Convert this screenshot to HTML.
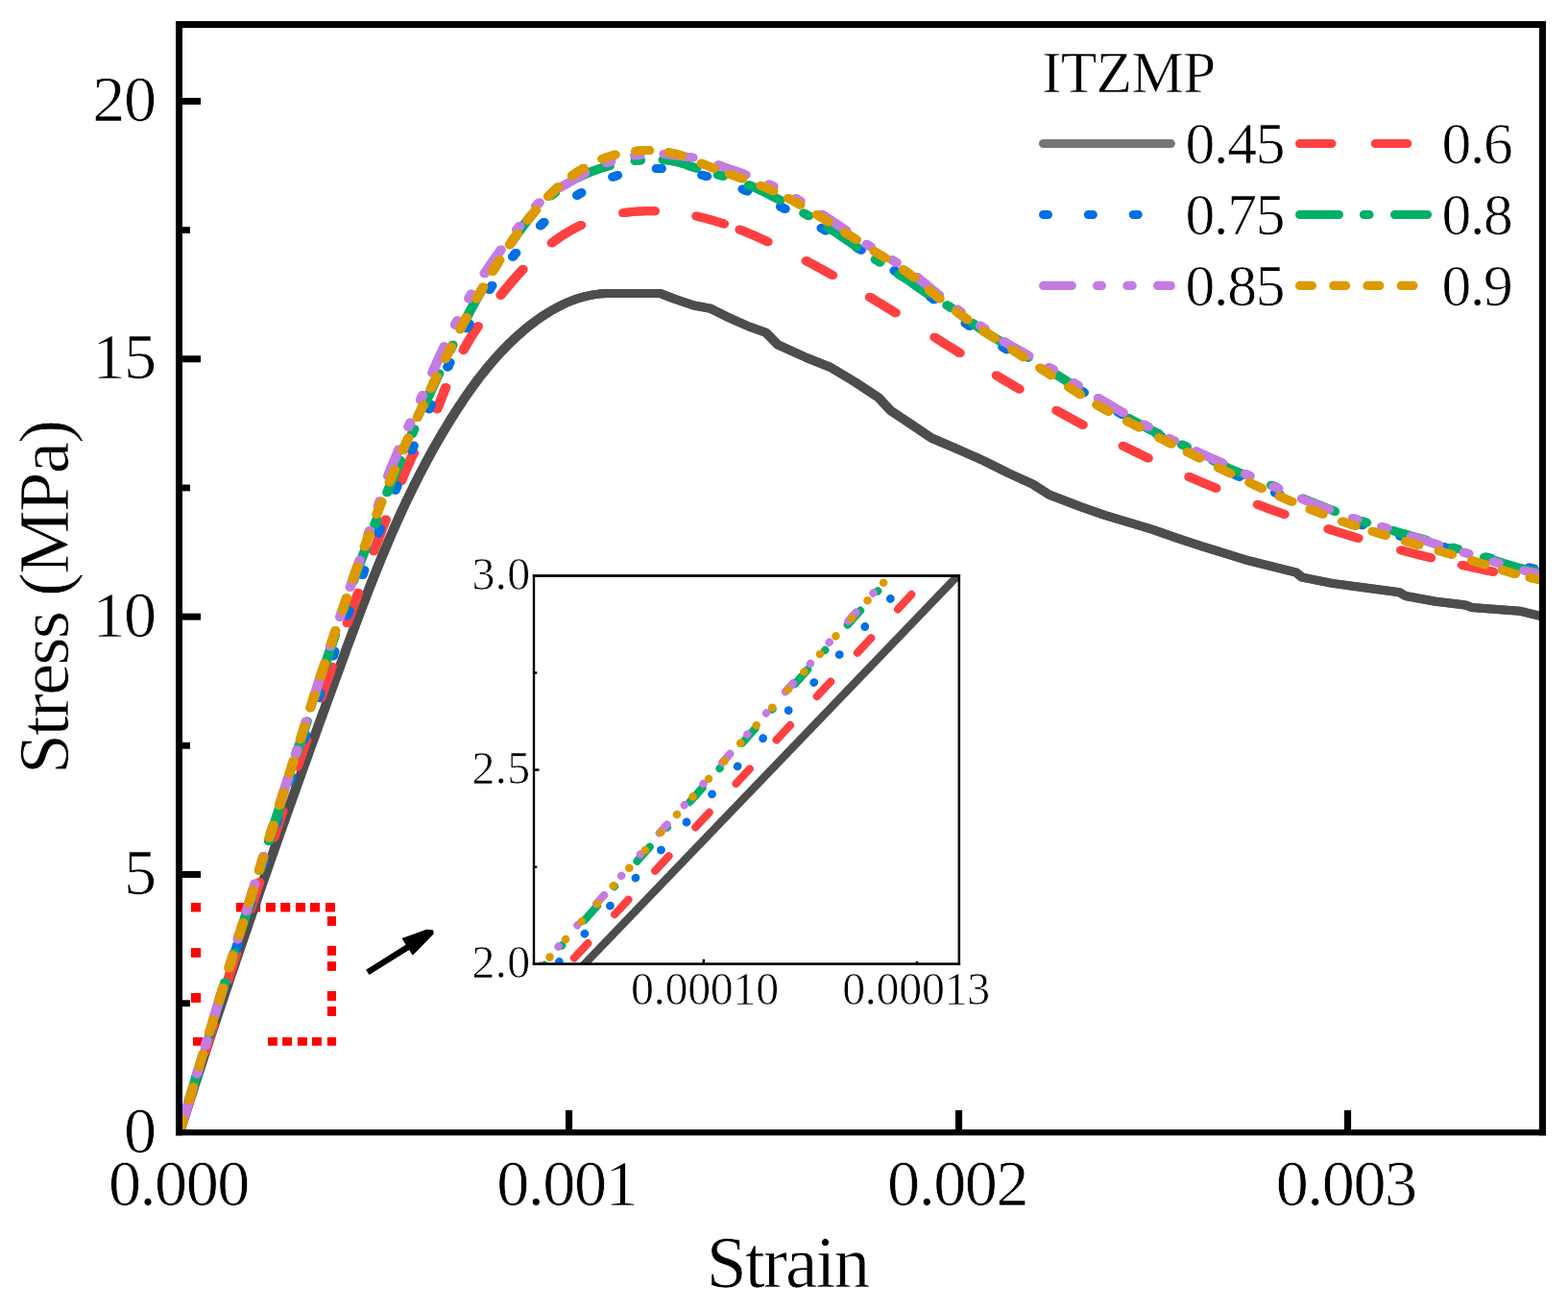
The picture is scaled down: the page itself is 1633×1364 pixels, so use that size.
<!DOCTYPE html>
<html lang="en"><head><meta charset="utf-8"><title>Stress-Strain curves (ITZMP)</title>
<style>
html,body{margin:0;padding:0;background:#fff;}
body{width:1633px;height:1364px;overflow:hidden;}
svg{display:block;font-family:"Liberation Serif", "Times New Roman", serif;fill:#000;}
text{stroke:#fff;stroke-width:0.7px;stroke-linejoin:round;}
</style></head><body>
<svg width="1633" height="1364" viewBox="0 0 1633 1364" shape-rendering="geometricPrecision">
<rect width="1633" height="1364" fill="#fff"/>
<defs><clipPath id="cm"><rect x="187" y="26" width="1419.5" height="1152.5"/></clipPath><clipPath id="ci"><rect x="556" y="599.5" width="442.8" height="404.3"/></clipPath></defs>
<g fill="#ff0000">
<rect x="198.90" y="940.00" width="10.20" height="9.50" fill="#ff0000"/>
<rect x="246.00" y="940.00" width="10.00" height="9.50" fill="#ff0000"/>
<rect x="261.20" y="940.00" width="10.00" height="9.50" fill="#ff0000"/>
<rect x="276.90" y="940.00" width="10.00" height="9.50" fill="#ff0000"/>
<rect x="292.20" y="940.00" width="10.00" height="9.50" fill="#ff0000"/>
<rect x="308.00" y="940.00" width="10.00" height="9.50" fill="#ff0000"/>
<rect x="323.00" y="940.00" width="10.00" height="9.50" fill="#ff0000"/>
<rect x="339.00" y="940.00" width="10.00" height="9.50" fill="#ff0000"/>
<rect x="340.90" y="954.10" width="9.10" height="9.90" fill="#ff0000"/>
<rect x="340.90" y="984.90" width="9.10" height="10.00" fill="#ff0000"/>
<rect x="340.90" y="1001.20" width="9.10" height="9.70" fill="#ff0000"/>
<rect x="340.90" y="1032.00" width="9.10" height="10.00" fill="#ff0000"/>
<rect x="340.90" y="1048.00" width="9.10" height="10.00" fill="#ff0000"/>
<rect x="201.00" y="1080.10" width="10.20" height="8.70" fill="#ff0000"/>
<rect x="279.10" y="1080.10" width="9.80" height="8.70" fill="#ff0000"/>
<rect x="294.10" y="1080.10" width="9.90" height="8.70" fill="#ff0000"/>
<rect x="309.90" y="1080.10" width="10.00" height="8.70" fill="#ff0000"/>
<rect x="324.90" y="1080.10" width="10.00" height="8.70" fill="#ff0000"/>
<rect x="340.90" y="1080.10" width="9.20" height="8.70" fill="#ff0000"/>
<rect x="198.90" y="987.10" width="10.20" height="9.80" fill="#ff0000"/>
<rect x="198.90" y="1034.00" width="10.20" height="9.90" fill="#ff0000"/>
</g>
<g clip-path="url(#cm)">
<path id="c1" transform="translate(-0.65 0)" d="M187.0,1178.9L188.2,1175.1L189.4,1171.3L190.6,1167.5L191.8,1163.7L193.1,1159.8L194.3,1156.0L195.5,1152.2L196.7,1148.4L197.9,1144.6L199.2,1140.8L200.4,1137.0L201.6,1133.2L202.8,1129.4L204.1,1125.6L205.3,1121.8L206.5,1118.0L207.8,1114.2L209.0,1110.4L210.3,1106.5L211.5,1102.7L212.7,1098.9L214.0,1095.1L215.2,1091.3L216.5,1087.5L217.7,1083.7L219.0,1079.9L220.2,1076.1L221.5,1072.3L222.8,1068.5L224.0,1064.8L225.3,1061.0L226.5,1057.2L227.8,1053.4L229.1,1049.6L230.3,1045.8L231.6,1042.0L232.9,1038.2L234.1,1034.4L235.4,1030.6L236.7,1026.8L238.0,1023.0L239.2,1019.2L240.5,1015.4L241.8,1011.6L243.1,1007.9L244.4,1004.1L245.6,1000.3L246.9,996.5L248.2,992.7L249.5,988.9L250.8,985.1L252.1,981.3L253.4,977.6L254.7,973.8L256.0,970.0L257.3,966.2L258.6,962.4L259.9,958.6L261.2,954.9L262.5,951.1L263.8,947.3L265.1,943.5L266.4,939.7L267.7,936.0L269.0,932.2L270.3,928.4L271.6,924.6L272.9,920.8L274.2,917.1L275.6,913.3L276.9,909.5L278.2,905.7L279.5,902.0L280.8,898.2L282.2,894.4L283.5,890.6L284.8,886.9L286.1,883.1L287.5,879.3L288.8,875.5L290.1,871.8L291.4,868.0L292.8,864.2L294.1,860.4L295.4,856.7L296.8,852.9L298.1,849.1L299.4,845.4L300.8,841.6L302.1,837.8L303.5,834.1L304.8,830.3L306.1,826.5L307.5,822.8L308.8,819.0L310.2,815.2L311.5,811.5L312.9,807.7L314.2,803.9L315.6,800.2L316.9,796.4L318.3,792.6L319.6,788.9L321.0,785.1L322.3,781.3L323.7,777.6L325.1,773.8L326.4,770.0L327.8,766.3L329.1,762.5L330.5,758.8L331.8,755.0L333.2,751.2L334.6,747.5L335.9,743.7L337.3,740.0L338.7,736.2L340.0,732.4L341.4,728.7L342.8,724.9L344.1,721.2L345.5,717.4L346.9,713.6L348.3,709.9L349.6,706.1L351.0,702.4L352.4,698.6L353.7,694.9L355.1,691.1L356.5,687.3L357.9,683.6L359.3,679.8L360.6,676.1L362.0,672.3L363.4,668.6L364.8,664.8L366.2,661.1L367.6,657.3L369.0,653.6L370.4,649.8L371.8,646.1L373.2,642.3L374.6,638.6L376.0,634.9L377.4,631.1L378.9,627.4L380.3,623.6L381.7,619.9L383.2,616.2L384.6,612.5L386.1,608.7L387.6,605.0L389.0,601.3L390.5,597.6L392.0,593.9L393.5,590.2L395.0,586.5L396.5,582.7L398.0,579.1L399.6,575.4L401.1,571.7L402.7,568.0L404.2,564.3L405.8,560.6L407.4,557.0L409.0,553.3L410.6,549.6L412.2,546.0L413.9,542.3L415.5,538.7L417.2,535.0L418.8,531.4L420.5,527.8L422.2,524.1L423.9,520.5L425.7,516.9L427.4,513.3L429.2,509.7L430.9,506.1L432.7,502.6L434.5,499.0L436.3,495.4L438.2,491.9L440.0,488.3L441.9,484.8L443.8,481.2L445.6,477.7L447.6,474.2L449.5,470.7L451.4,467.2L453.4,463.7L455.4,460.3L457.4,456.8L459.4,453.3L461.4,449.9L463.5,446.5L465.6,443.0L467.6,439.6L469.7,436.2L471.9,432.8L474.0,429.5L476.2,426.1L478.4,422.7L480.6,419.4L482.8,416.1L485.1,412.8L487.3,409.5L489.6,406.2L492.0,403.0L494.3,399.7L496.7,396.5L499.1,393.3L501.6,390.2L504.1,387.1L506.6,383.9L509.1,380.9L511.7,377.8L514.3,374.8L517.0,371.8L519.7,368.8L522.4,365.9L525.2,363.0L528.0,360.1L530.8,357.3L533.7,354.6L536.6,351.8L539.6,349.1L542.6,346.5L545.6,343.9L548.7,341.3L551.8,338.8L555.0,336.4L558.2,334.0L561.4,331.7L564.7,329.4L568.1,327.2L571.4,325.1L574.9,323.0L578.4,321.1L581.9,319.2L585.5,317.4L589.1,315.7L592.8,314.2L596.5,312.7L600.3,311.3L604.1,310.1L607.9,309.0L611.8,308.1L615.7,307.3L619.7,306.6L623.7,306.1L627.6,305.7L631.6,305.5L635.6,305.5L637.0,305.5L652.5,305.5L687.5,305.5L702.5,311.2L722.5,318.0L740.0,321.2L760.0,331.2L780.0,340.0L797.5,346.2L810.0,358.8L840.0,372.5L865.0,382.5L890.0,397.5L915.0,414.0L927.5,427.5L950.0,442.5L970.0,456.0L1000.0,468.8L1025.0,480.0L1050.0,492.5L1075.0,503.8L1092.5,515.0L1125.0,527.5L1150.0,536.2L1175.0,543.8L1200.0,551.2L1225.0,560.0L1250.0,568.2L1300.0,583.7L1350.0,596.2L1356.2,601.2L1387.4,607.4L1420.0,611.8L1457.5,616.8L1463.7,620.5L1495.0,626.2L1526.2,630.0L1532.4,632.4L1582.4,636.2L1603.0,641.2L1612.0,643.5" fill="none" stroke="#4d4d4d" stroke-width="9.0" stroke-linecap="butt" stroke-linejoin="round"/><use href="#c1" x="1.3"/>
<path id="c2" transform="translate(-0.65 0)" d="M455.2,425.9L455.5,425.2L456.1,423.8L456.7,422.4L457.2,421.1L457.8,419.7L458.3,418.3L458.9,416.9L459.4,415.5L460.0,414.1L460.5,412.7L461.1,411.3L461.6,409.9L462.1,408.5L462.7,407.1L463.2,405.7L463.8,404.3L464.1,403.4M482.6,364.4L483.0,363.7L483.8,362.4L484.5,361.1L485.3,359.8L486.0,358.5L486.8,357.2L487.6,355.9L488.3,354.6L489.1,353.3L489.9,352.0L490.7,350.8L491.5,349.5L492.3,348.2L493.1,346.9L493.9,345.7L494.7,344.4L495.5,343.2L496.3,341.9L497.2,340.7L497.8,339.7M521.5,307.3L522.0,306.8L522.9,305.6L523.8,304.4L524.8,303.3L525.7,302.1L526.7,300.9L527.6,299.8L528.6,298.6L529.6,297.5L530.5,296.3L531.5,295.2L532.5,294.0L533.4,292.9L534.4,291.8L535.4,290.6L536.4,289.5L537.4,288.4L538.4,287.3L539.4,286.2L540.4,285.0L541.4,283.9L542.4,282.8L543.4,281.7L544.6,280.5M574.8,252.9L575.5,252.4L576.7,251.5L577.9,250.6L579.1,249.7L580.3,248.9L581.6,248.0L582.8,247.2L584.0,246.3L585.3,245.5L586.6,244.7L587.8,243.9L589.1,243.1L590.4,242.3L591.7,241.5L592.9,240.8L594.2,240.0L595.6,239.3L596.9,238.6L598.2,237.8L599.5,237.1L600.9,236.5L602.2,235.8L603.6,235.1L605.1,234.4M649.2,221.6L650.9,221.4L652.4,221.2L653.9,221.0L655.4,220.9L656.9,220.7L658.3,220.6L659.8,220.4L661.3,220.3L662.8,220.2L664.3,220.1L665.8,220.0L667.3,219.9L668.8,219.9L670.3,219.8L671.8,219.8L673.3,219.7L674.8,219.7L676.3,219.7L677.8,219.7L679.3,219.7L680.8,219.8L681.9,219.8M725.4,225.1L726.9,225.4L728.4,225.8L729.8,226.1L731.3,226.5L732.7,226.8L734.2,227.2L735.6,227.6L737.1,228.0L738.5,228.3L740.0,228.8L741.4,229.2L742.9,229.6L744.3,230.0L745.7,230.4L747.2,230.9L748.6,231.3L750.0,231.8L751.5,232.2L752.9,232.7L753.9,233.1M770.5,239.1L771.2,239.4L772.6,240.0L774.0,240.5L775.4,241.1L776.8,241.6L778.1,242.2L779.5,242.8L780.9,243.4L782.3,244.0L783.7,244.5L785.1,245.1L786.4,245.7L787.8,246.3L789.2,247.0L790.5,247.6L791.9,248.2L793.3,248.8L794.6,249.4L796.0,250.0L797.4,250.7L798.7,251.3L799.5,251.7M839.7,271.7L840.4,272.0L841.7,272.7L843.0,273.4L844.3,274.1L845.7,274.8L847.0,275.5L848.3,276.2L849.6,276.9L850.9,277.7L852.3,278.4L853.6,279.1L854.9,279.8L856.2,280.5L857.5,281.3L858.8,282.0L860.1,282.7L861.4,283.5L862.8,284.2L864.1,284.9L865.4,285.7L866.7,286.4L867.0,286.6M906.0,309.4L906.8,309.9L908.1,310.7L909.4,311.5L910.7,312.2L911.9,313.0L913.2,313.8L914.5,314.6L915.8,315.4L917.1,316.1L918.3,316.9L919.6,317.7L920.9,318.5L922.2,319.3L923.4,320.1L924.7,320.8L926.0,321.6L927.3,322.4L928.6,323.2L929.8,324.0L931.1,324.8L932.4,325.6L932.7,325.7M973.5,351.3L974.4,351.8L975.6,352.6L976.9,353.4L978.2,354.2L979.4,355.0L980.7,355.8L982.0,356.6L983.3,357.4L984.5,358.2L985.8,359.0L987.1,359.8L988.3,360.6L989.6,361.4L990.9,362.1L992.2,362.9L993.4,363.7L994.7,364.5L996.0,365.3L997.3,366.1L998.5,366.9L999.6,367.6M1037.8,390.9L1038.2,391.2L1039.5,391.9L1040.8,392.7L1042.1,393.5L1043.3,394.3L1044.6,395.0L1045.9,395.8L1047.2,396.6L1048.5,397.3L1049.8,398.1L1051.1,398.9L1052.4,399.6L1053.7,400.4L1054.9,401.2L1056.2,401.9L1057.5,402.7L1058.8,403.4L1060.1,404.2L1061.6,405.1M1100.4,427.4L1101.7,428.1L1103.0,428.8L1104.4,429.6L1105.7,430.3L1107.0,431.0L1108.3,431.8L1109.6,432.5L1110.9,433.2L1112.2,433.9L1113.5,434.7L1114.9,435.4L1116.2,436.1L1117.5,436.8L1118.8,437.5L1120.1,438.3L1121.4,439.0L1122.8,439.7L1124.1,440.4L1125.4,441.1L1126.7,441.8L1127.7,442.4M1169.7,464.3L1170.6,464.7L1172.0,465.4L1173.3,466.0L1174.6,466.7L1176.0,467.4L1177.3,468.0L1178.7,468.7L1180.0,469.4L1181.4,470.0L1182.7,470.7L1184.1,471.3L1185.4,472.0L1186.8,472.7L1188.1,473.3L1189.5,474.0L1190.8,474.6L1192.2,475.3L1193.5,475.9L1194.9,476.6L1195.7,477.0M1238.5,496.5L1239.9,497.1L1241.3,497.7L1242.7,498.3L1244.0,498.9L1245.4,499.5L1246.8,500.1L1248.2,500.7L1249.5,501.3L1250.9,501.8L1252.3,502.4L1253.7,503.0L1255.1,503.6L1256.5,504.2L1257.8,504.8L1259.2,505.3L1260.6,505.9L1262.0,506.5L1263.4,507.1L1264.8,507.6L1266.3,508.3M1309.8,525.3L1310.8,525.7L1312.2,526.3L1313.6,526.8L1315.0,527.3L1316.5,527.8L1317.9,528.3L1319.3,528.9L1320.7,529.4L1322.1,529.9L1323.5,530.4L1324.9,530.9L1326.3,531.4L1327.7,531.9L1329.1,532.4L1330.6,533.0L1332.0,533.5L1333.4,534.0L1334.8,534.5L1336.2,535.0L1337.6,535.5M1383.5,550.8L1384.6,551.2L1386.0,551.6L1387.4,552.1L1388.8,552.5L1390.3,553.0L1391.7,553.4L1393.1,553.9L1394.6,554.3L1396.0,554.8L1397.4,555.2L1398.9,555.6L1400.3,556.1L1401.7,556.5L1403.2,557.0L1404.6,557.4L1406.1,557.8L1407.5,558.3L1408.9,558.7L1410.4,559.1L1411.8,559.5L1413.2,560.0L1414.4,560.3M1459.2,572.9L1460.9,573.3L1462.4,573.7L1463.8,574.1L1465.3,574.5L1466.7,574.8L1468.2,575.2L1469.6,575.6L1471.1,576.0L1472.5,576.3L1474.0,576.7L1475.4,577.1L1476.9,577.5L1478.3,577.8L1479.8,578.2L1481.2,578.6L1482.7,578.9L1484.2,579.3L1485.6,579.6L1487.1,580.0L1488.5,580.4L1490.1,580.8M1522.9,588.4L1523.6,588.6L1525.0,588.9L1526.5,589.2L1528.0,589.6L1529.4,589.9L1530.9,590.2L1532.4,590.5L1533.8,590.8L1535.3,591.2L1536.8,591.5L1538.2,591.8L1539.7,592.1L1541.2,592.4L1542.6,592.7L1544.1,593.0L1545.6,593.4L1547.0,593.7L1548.5,594.0L1550.0,594.3L1551.4,594.6L1552.9,594.9L1554.4,595.2L1555.0,595.3M334.2,726.9L334.8,725.4L335.3,724.0L335.8,722.5L336.2,721.1L336.7,719.7L337.2,718.3L337.7,716.9L338.2,715.5L338.7,714.0L339.2,712.6L339.7,711.2L340.2,709.8L340.7,708.4L341.2,707.0L341.7,705.6L342.2,704.1L342.7,702.7L343.2,701.3L343.7,699.9L344.2,698.5L344.7,697.1L345.1,695.6L345.7,694.2M361.8,648.8L362.2,647.6L362.7,646.2L363.2,644.8L363.7,643.3L364.2,641.9L364.8,640.5L365.3,639.1L365.8,637.7L366.3,636.3L366.8,634.9L367.3,633.5L367.8,632.1L368.3,630.6L368.8,629.2L369.3,627.8L369.9,626.4L370.4,625.0L370.9,623.6L371.4,622.2L371.9,620.8L372.4,619.4L372.9,618.0L373.2,617.3M389.3,573.8L389.6,572.9L390.1,571.5L390.7,570.1L391.2,568.7L391.7,567.3L392.3,565.9L392.8,564.5L393.3,563.1L393.9,561.7L394.4,560.3L394.9,558.9L395.5,557.5L396.0,556.1L396.5,554.7L397.1,553.3L397.6,551.9L398.1,550.5L398.7,549.1L399.2,547.7L399.8,546.3L400.3,544.9L400.9,543.5L401.4,542.1L401.9,541.0M418.0,500.7L418.1,500.4L418.7,499.0L419.3,497.6L419.8,496.2L420.4,494.8L421.0,493.4L421.6,492.0L422.2,490.7L422.8,489.3L423.4,487.9L424.0,486.5L424.6,485.2L425.2,483.8L425.8,482.4L426.4,481.1L427.1,479.7L427.7,478.3L428.3,477.0L429.0,475.6L429.6,474.3L430.3,472.9L431.0,471.6M310.0,798.1L310.5,796.4L311.0,794.9L311.5,793.5L312.0,792.1L312.4,790.7L312.9,789.3L313.4,787.8L313.9,786.4L314.4,785.0L314.9,783.6L315.3,782.1L315.8,780.7L316.3,779.3L316.8,777.9L317.3,776.5L317.7,775.0L318.2,773.6L318.7,772.2L319.3,770.6M285.3,872.1L285.9,870.4L286.4,868.9L286.8,867.5L287.3,866.1L287.8,864.7L288.2,863.2L288.7,861.8L289.2,860.4L289.7,859.0L290.1,857.5L290.6,856.1L291.1,854.7L291.5,853.3L292.0,851.8L292.5,850.4L292.9,849.0L293.4,847.6L293.9,846.2L294.4,844.5M261.2,946.2L261.7,944.5L262.2,943.1L262.6,941.7L263.1,940.2L263.6,938.8L264.0,937.4L264.5,936.0L265.0,934.5L265.4,933.1L265.9,931.7L266.3,930.3L266.8,928.8L267.3,927.4L267.7,926.0L268.2,924.5L268.7,923.1L269.1,921.7L269.6,920.3L270.1,918.6M237.3,1020.5L237.9,1018.8L238.3,1017.4L238.8,1015.9L239.2,1014.5L239.7,1013.1L240.2,1011.6L240.6,1010.2L241.1,1008.8L241.5,1007.4L242.0,1005.9L242.4,1004.5L242.9,1003.1L243.4,1001.6L243.8,1000.2L244.3,998.8L244.7,997.4L245.2,995.9L245.6,994.5L246.2,992.9M213.7,1094.8L214.2,1093.1L214.7,1091.7L215.1,1090.3L215.6,1088.8L216.0,1087.4L216.5,1086.0L216.9,1084.5L217.4,1083.1L217.9,1081.7L218.3,1080.2L218.8,1078.8L219.2,1077.4L219.7,1076.0L220.1,1074.5L220.6,1073.1L221.0,1071.7L221.5,1070.2L221.9,1068.8L222.5,1067.2M190.1,1169.2L190.6,1167.5L191.1,1166.0L191.5,1164.6L192.0,1163.2L192.4,1161.7L192.9,1160.3L193.4,1158.9L193.8,1157.5L194.3,1156.0L194.7,1154.6L195.2,1153.2L195.6,1151.7L196.1,1150.3L196.5,1148.9L197.0,1147.4L197.4,1146.0L197.9,1144.6L198.3,1143.2L198.9,1141.5" fill="none" stroke="#ff4040" stroke-width="9.0" stroke-linecap="round" stroke-linejoin="round"/><use href="#c2" x="1.3"/>
<path id="c3" transform="translate(-0.65 0)" d="M191.4,1164.6L191.8,1163.1L192.2,1161.7L192.7,1160.2L192.8,1159.8M204.8,1120.6L205.0,1120.1L205.4,1118.6L205.8,1117.2L206.3,1115.8M218.3,1076.6L218.6,1075.6L219.1,1074.2L219.5,1072.8L219.8,1071.8M231.9,1032.6L232.4,1031.2L232.8,1029.8L233.2,1028.3L233.4,1027.9M245.6,988.7L245.8,988.2L246.2,986.8L246.7,985.4L247.1,984.0M259.4,944.9L259.7,943.9L260.2,942.5L260.7,941.0L261.0,940.1M273.4,901.0L273.9,899.6L274.4,898.2L274.8,896.8L275.0,896.3M287.6,857.3L287.8,856.8L288.2,855.4L288.7,854.0L289.2,852.5M302.0,813.6L302.3,812.6L302.8,811.2L303.3,809.8L303.6,808.8M316.6,770.0L317.1,768.6L317.6,767.1L318.1,765.7L318.3,765.2M331.6,726.5L331.7,726.0L332.2,724.6L332.7,723.2L333.2,721.7M346.8,683.0L347.1,682.1L347.6,680.7L348.1,679.3L348.4,678.3M362.0,640.7L362.3,639.8L362.8,638.4L363.4,636.9L363.7,636.0M377.6,598.5L377.9,597.6L378.5,596.2L379.0,594.7L379.3,593.8M394.1,555.0L394.5,554.1L395.0,552.7L395.6,551.3L396.0,550.4M411.7,510.4L412.1,509.5L412.7,508.1L413.2,506.7L413.6,505.7M428.7,468.7L429.1,467.8L429.7,466.4L430.3,465.0L430.7,464.1M446.8,425.9L447.2,425.0L447.8,423.6L448.4,422.2L448.8,421.3M466.3,382.0L466.8,381.1L467.4,379.8L468.0,378.4L468.5,377.5M486.3,341.7L486.8,340.8L487.5,339.5L488.2,338.2L488.7,337.3M509.7,301.5L510.3,300.7L511.1,299.4L511.9,298.2L512.4,297.4M534.1,267.3L534.7,266.6L535.6,265.4L536.6,264.2L537.2,263.4M563.0,234.9L563.7,234.2L564.7,233.1L565.8,232.1L566.5,231.4M601.1,203.4L601.9,202.9L603.2,202.0L604.4,201.2L605.3,200.7M638.3,184.2L639.3,183.9L640.7,183.4L642.1,182.9L643.0,182.5M683.8,175.5L684.8,175.5L686.3,175.5L687.8,175.5L688.8,175.5M731.2,182.2L732.1,182.5L733.6,182.9L735.0,183.3L736.0,183.5M773.6,197.0L774.5,197.4L775.9,198.0L777.3,198.6L778.2,199.0M813.1,215.2L814.0,215.7L815.3,216.4L816.7,217.0L817.6,217.5M855.6,237.6L856.5,238.1L857.8,238.8L859.1,239.5L860.0,240.0M892.4,257.8L893.2,258.3L894.6,259.1L895.9,259.8L896.7,260.3M931.6,281.8L932.9,282.6L934.1,283.4L935.4,284.3L935.8,284.6M968.9,308.8L969.3,309.1L970.5,310.0L971.6,310.9L972.8,311.8M1005.6,336.4L1006.5,337.0L1007.7,337.9L1008.9,338.7L1009.7,339.3M1044.3,361.3L1045.6,362.0L1046.9,362.8L1048.2,363.5L1048.7,363.8M1084.5,383.7L1084.9,384.0L1086.2,384.7L1087.5,385.4L1088.8,386.2M1124.6,406.2L1125.5,406.7L1126.8,407.5L1128.1,408.2L1128.9,408.7M1164.5,429.1L1165.8,429.8L1167.1,430.6L1168.4,431.3L1168.9,431.6M1204.6,451.7L1205.0,452.0L1206.3,452.7L1207.6,453.4L1208.9,454.1M1245.0,473.6L1245.9,474.1L1247.2,474.8L1248.6,475.5L1249.5,475.9M1286.2,494.1L1287.5,494.8L1288.9,495.4L1290.2,496.1L1290.7,496.3M1328.1,513.0L1328.6,513.2L1330.0,513.8L1331.3,514.4L1332.7,515.0M1370.8,530.1L1371.8,530.4L1373.2,530.9L1374.6,531.5L1375.5,531.8M1414.3,545.2L1415.7,545.6L1417.1,546.1L1418.6,546.5L1419.1,546.7M1458.4,558.2L1458.9,558.3L1460.3,558.7L1461.8,559.1L1463.2,559.5M1503.0,569.5L1504.0,569.7L1505.4,570.1L1506.9,570.4L1507.9,570.7M1547.8,580.1L1549.2,580.4L1550.7,580.8L1552.1,581.1L1552.6,581.2M1592.5,590.9L1592.9,591.1L1594.4,591.4L1595.8,591.8L1597.3,592.2" fill="none" stroke="#006fe6" stroke-width="9.0" stroke-linecap="round" stroke-linejoin="round"/><use href="#c3" x="1.3"/>
<path id="c4" transform="translate(-0.65 0)" d="M187.0,1178.9L187.4,1177.5L187.9,1176.0L188.3,1174.6L188.5,1173.9M214.4,1088.2L214.7,1087.0L215.2,1085.6L215.6,1084.1L216.0,1082.9M242.2,997.4L242.4,996.6L242.9,995.2L243.3,993.8L243.8,992.1M270.3,906.6L270.9,905.0L271.3,903.5L271.8,902.1L272.0,901.4M298.9,816.0L299.3,814.8L299.7,813.4L300.2,812.0L300.6,810.8M327.9,725.5L328.1,724.8L328.6,723.4L329.0,722.0L329.6,720.3M357.5,635.3L358.1,633.6L358.6,632.2L359.1,630.8L359.3,630.1M390.3,546.1L390.8,545.0L391.3,543.6L391.8,542.2L392.3,541.0M429.0,451.8L429.6,450.7L430.2,449.3L430.8,447.9L431.3,446.8M469.1,364.2L469.5,363.4L470.1,362.0L470.8,360.7L471.5,359.2M514.9,279.5L515.2,279.0L516.0,277.7L516.8,276.4L517.6,275.2L517.8,274.8M573.8,203.7L575.1,202.7L576.3,201.7L577.5,200.8L578.1,200.3M661.6,167.5L663.0,167.3L664.5,167.2L666.0,167.1L667.0,167.0M747.9,182.0L749.3,182.3L750.7,182.7L752.2,183.1L753.2,183.4M837.3,222.0L837.9,222.3L839.2,223.1L840.5,223.8L841.8,224.6L842.1,224.7M911.8,270.1L912.2,270.4L913.4,271.2L914.7,272.0L915.9,272.8L916.3,273.1M986.4,317.8L986.7,318.0L988.0,318.8L989.2,319.6L990.4,320.5L991.0,320.8M1065.9,369.4L1067.2,370.2L1068.5,371.0L1069.8,371.7L1070.7,372.3M1146.4,419.7L1147.3,420.2L1148.6,421.0L1149.9,421.7L1151.2,422.5M1230.9,462.9L1231.5,463.2L1232.8,463.8L1234.2,464.5L1235.5,465.2L1235.9,465.4M1324.2,505.2L1325.7,505.8L1327.1,506.3L1328.4,506.9L1329.3,507.3M1417.9,542.5L1419.0,542.9L1420.5,543.3L1421.9,543.8L1423.1,544.2M1513.0,570.2L1514.1,570.5L1515.5,570.9L1517.0,571.4L1518.2,571.7M196.2,1148.2L196.5,1147.3L196.9,1145.9L197.3,1144.4L197.8,1143.0L198.2,1141.5L198.6,1140.1L199.1,1138.7L199.5,1137.2L199.9,1135.8L200.4,1134.4L200.8,1132.9L201.2,1131.5L201.7,1130.1L202.1,1128.6L202.5,1127.2L203.0,1125.7L203.4,1124.3L203.8,1122.9L204.3,1121.4L204.7,1120.0L205.1,1118.6L205.6,1117.1L206.0,1115.7L206.4,1114.3L206.6,1113.8M223.8,1057.3L223.9,1056.9L224.3,1055.4L224.8,1054.0L225.2,1052.6L225.7,1051.1L226.1,1049.7L226.5,1048.3L227.0,1046.8L227.4,1045.4L227.9,1043.9L228.3,1042.5L228.7,1041.1L229.2,1039.6L229.6,1038.2L230.1,1036.8L230.5,1035.3L230.9,1033.9L231.4,1032.5L231.8,1031.0L232.3,1029.6L232.7,1028.2L233.1,1026.7L233.6,1025.3L234.0,1023.9L234.3,1022.9M251.7,966.5L252.1,965.1L252.6,963.7L253.0,962.2L253.5,960.8L253.9,959.4L254.4,957.9L254.8,956.5L255.3,955.1L255.7,953.6L256.1,952.2L256.6,950.8L257.0,949.3L257.5,947.9L257.9,946.5L258.4,945.0L258.8,943.6L259.3,942.2L259.7,940.8L260.1,939.3L260.6,937.9L261.0,936.5L261.5,935.0L261.9,933.6L262.4,932.2M280.0,875.8L280.3,874.9L280.7,873.5L281.2,872.0L281.6,870.6L282.1,869.2L282.5,867.7L283.0,866.3L283.4,864.9L283.9,863.4L284.3,862.0L284.8,860.6L285.3,859.2L285.7,857.7L286.2,856.3L286.6,854.9L287.1,853.4L287.5,852.0L288.0,850.6L288.4,849.1L288.9,847.7L289.3,846.3L289.8,844.9L290.2,843.4L290.7,842.0L290.8,841.5M308.7,785.3L308.9,784.8L309.3,783.4L309.8,782.0L310.2,780.5L310.7,779.1L311.1,777.7L311.6,776.2L312.1,774.8L312.5,773.4L313.0,772.0L313.4,770.5L313.9,769.1L314.3,767.7L314.8,766.2L315.3,764.8L315.7,763.4L316.2,762.0L316.6,760.5L317.1,759.1L317.5,757.7L318.0,756.2L318.5,754.8L318.9,753.4L319.4,752.0L319.7,751.0M337.8,694.9L338.3,693.4L338.8,692.0L339.2,690.6L339.7,689.2L340.1,687.7L340.6,686.3L341.1,684.9L341.5,683.5L342.0,682.0L342.5,680.6L342.9,679.2L343.4,677.8L343.9,676.3L344.3,674.9L344.8,673.5L345.3,672.1L345.7,670.6L346.2,669.2L346.7,667.8L347.2,666.4L347.6,664.9L348.1,663.5L348.6,662.1L349.0,660.7M368.0,604.8L368.4,603.9L368.9,602.4L369.4,601.0L369.9,599.6L370.4,598.2L370.9,596.8L371.4,595.4L372.0,594.0L372.5,592.6L373.0,591.2L373.5,589.8L374.1,588.4L374.6,587.0L375.2,585.6L375.7,584.2L376.2,582.8L376.8,581.4L377.3,580.0L377.9,578.6L378.4,577.2L378.9,575.8L379.5,574.4L380.0,573.0L380.6,571.6L380.8,571.1M403.3,512.8L403.8,511.4L404.4,510.0L404.9,508.6L405.5,507.3L406.1,505.9L406.6,504.5L407.2,503.1L407.8,501.7L408.3,500.3L408.9,498.9L409.5,497.5L410.0,496.1L410.6,494.8L411.2,493.4L411.8,492.0L412.3,490.6L412.9,489.2L413.5,487.8L414.1,486.4L414.6,485.1L415.2,483.7L415.8,482.3L416.4,480.9L417.0,479.5M442.3,421.6L442.8,420.4L443.4,419.1L444.0,417.7L444.6,416.3L445.2,414.9L445.8,413.6L446.4,412.2L447.1,410.8L447.7,409.5L448.3,408.1L448.9,406.7L449.5,405.4L450.1,404.0L450.8,402.6L451.4,401.3L452.0,399.9L452.6,398.5L453.3,397.2L453.9,395.8L454.5,394.5L455.2,393.1L455.8,391.7L456.4,390.4L457.2,388.9M483.9,334.8L484.3,333.9L485.0,332.5L485.7,331.2L486.4,329.9L487.1,328.6L487.8,327.2L488.5,325.9L489.2,324.6L489.9,323.2L490.6,321.9L491.3,320.6L492.0,319.3L492.7,318.0L493.4,316.6L494.1,315.3L494.8,314.0L495.6,312.7L496.3,311.4L497.0,310.0L497.7,308.7L498.4,307.4L499.2,306.1L499.9,304.8L500.6,303.5L500.9,303.0M532.9,251.9L533.2,251.4L534.1,250.1L535.0,248.9L535.8,247.7L536.7,246.5L537.6,245.2L538.4,244.0L539.3,242.8L540.2,241.6L541.1,240.4L542.0,239.2L542.8,238.0L543.7,236.7L544.6,235.5L545.5,234.3L546.4,233.1L547.4,232.0L548.3,230.8L549.2,229.6L550.1,228.4L551.0,227.2L552.0,226.1L552.9,224.9L553.9,223.7L554.4,223.1M601.1,185.4L601.4,185.3L602.7,184.6L604.0,183.9L605.4,183.3L606.8,182.6L608.1,182.0L609.5,181.4L610.9,180.8L612.3,180.2L613.6,179.6L615.0,179.1L616.4,178.5L617.8,178.0L619.2,177.5L620.6,177.0L622.1,176.5L623.5,176.0L624.9,175.5L626.3,175.1L627.8,174.6L629.2,174.2L630.7,173.7L632.1,173.3L633.5,172.9L634.7,172.6M690.6,166.5L691.5,166.6L692.9,166.7L694.4,166.9L695.9,167.1L697.4,167.3L698.9,167.6L700.4,167.9L701.9,168.1L703.4,168.4L704.8,168.7L706.3,169.0L707.7,169.3L709.1,169.7L710.6,170.2L712.0,170.6L713.4,171.1L714.9,171.6L716.3,172.2L717.7,172.7L719.1,173.2L720.5,173.7L722.0,174.1L723.4,174.6L724.8,175.0L725.4,175.2M780.0,192.8L780.5,193.0L781.9,193.6L783.3,194.1L784.6,194.7L786.0,195.3L787.4,195.9L788.8,196.5L790.1,197.1L791.5,197.8L792.8,198.4L794.2,199.1L795.5,199.7L796.9,200.4L798.2,201.1L799.5,201.8L800.9,202.5L802.2,203.2L803.5,203.9L804.9,204.5L806.2,205.2L807.5,205.9L808.9,206.6L810.2,207.3L811.5,208.0L812.4,208.4M862.3,236.8L863.7,237.7L864.9,238.5L866.2,239.3L867.5,240.1L868.7,240.9L870.0,241.7L871.2,242.5L872.5,243.4L873.7,244.2L874.9,245.1L876.2,245.9L877.4,246.8L878.7,247.6L879.9,248.5L881.1,249.3L882.4,250.2L883.6,251.0L884.8,251.9L886.1,252.7L887.3,253.5L888.6,254.4L889.8,255.2L891.0,256.1L892.2,256.9M936.2,285.8L937.5,286.5L938.8,287.2L940.0,288.0L941.3,288.8L942.6,289.6L943.9,290.4L945.1,291.2L946.4,292.0L947.6,292.9L948.8,293.8L950.0,294.6L951.2,295.5L952.5,296.4L953.7,297.3L954.9,298.2L956.1,299.0L957.3,299.9L958.6,300.8L959.8,301.6L961.1,302.4L962.3,303.3L963.6,304.1L964.8,304.9L966.1,305.8M1012.7,336.4L1013.6,337.1L1014.9,337.9L1016.1,338.8L1017.3,339.6L1018.6,340.5L1019.8,341.3L1021.0,342.2L1022.3,343.1L1023.5,343.9L1024.7,344.8L1026.0,345.6L1027.2,346.4L1028.5,347.2L1029.7,348.1L1031.0,348.9L1032.3,349.7L1033.5,350.4L1034.8,351.2L1036.1,352.0L1037.4,352.7L1038.7,353.5L1040.0,354.3L1041.3,355.0L1042.6,355.8L1042.9,355.9M1093.6,386.0L1094.2,386.4L1095.5,387.2L1096.8,387.9L1098.1,388.7L1099.3,389.5L1100.6,390.3L1101.9,391.1L1103.2,391.9L1104.4,392.7L1105.7,393.5L1107.0,394.3L1108.2,395.1L1109.5,395.9L1110.7,396.8L1112.0,397.6L1113.2,398.4L1114.4,399.3L1115.7,400.1L1116.9,401.0L1118.2,401.8L1119.4,402.6L1120.7,403.4L1121.9,404.3L1123.2,405.1L1123.8,405.5M1174.7,435.2L1175.0,435.3L1176.3,436.0L1177.6,436.7L1179.0,437.4L1180.3,438.1L1181.6,438.8L1182.9,439.5L1184.3,440.2L1185.6,440.9L1186.9,441.6L1188.2,442.3L1189.6,443.0L1190.9,443.7L1192.2,444.4L1193.5,445.1L1194.9,445.8L1196.2,446.5L1197.5,447.2L1198.9,447.9L1200.2,448.5L1201.6,449.2L1202.9,449.8L1204.3,450.5L1205.6,451.1L1206.7,451.6M1263.0,479.3L1263.5,479.5L1264.9,480.2L1266.2,480.9L1267.5,481.6L1268.9,482.3L1270.2,483.0L1271.5,483.7L1272.9,484.3L1274.2,485.0L1275.6,485.7L1276.9,486.3L1278.3,487.0L1279.6,487.6L1281.0,488.2L1282.4,488.8L1283.7,489.4L1285.1,490.0L1286.5,490.5L1287.9,491.1L1289.3,491.7L1290.7,492.2L1292.1,492.8L1293.5,493.3L1294.9,493.9L1295.7,494.2M1356.6,519.0L1357.4,519.3L1358.8,519.9L1360.2,520.4L1361.6,521.0L1363.0,521.6L1364.3,522.1L1365.7,522.7L1367.1,523.3L1368.5,523.8L1369.9,524.4L1371.3,524.9L1372.7,525.5L1374.1,526.1L1375.5,526.6L1376.9,527.2L1378.3,527.7L1379.7,528.3L1381.0,528.8L1382.4,529.4L1383.8,529.9L1385.2,530.5L1386.6,531.0L1388.0,531.6L1389.4,532.1L1390.0,532.4M1450.7,552.5L1452.0,552.9L1453.5,553.3L1454.9,553.8L1456.4,554.2L1457.8,554.6L1459.2,555.0L1460.7,555.4L1462.1,555.8L1463.6,556.2L1465.0,556.6L1466.5,557.0L1467.9,557.4L1469.3,557.9L1470.8,558.3L1472.2,558.7L1473.7,559.1L1475.1,559.5L1476.6,559.9L1478.0,560.3L1479.5,560.7L1480.9,561.1L1482.3,561.5L1483.8,561.9L1485.3,562.3M1546.0,580.3L1547.1,580.6L1548.5,581.1L1549.9,581.5L1551.4,582.0L1552.8,582.4L1554.2,582.9L1555.7,583.3L1557.1,583.8L1558.5,584.2L1560.0,584.7L1561.4,585.1L1562.8,585.6L1564.2,586.0L1565.7,586.5L1567.1,586.9L1568.6,587.3L1570.0,587.7L1571.4,588.2L1572.9,588.6L1574.3,589.0L1575.8,589.4L1577.2,589.9L1578.6,590.3L1580.1,590.7L1581.5,591.1L1583.0,591.4L1584.4,591.8L1585.9,592.2L1587.3,592.5L1588.8,592.9L1590.3,593.2L1591.7,593.6L1593.2,593.9L1594.6,594.3L1596.1,594.6L1597.6,594.9L1599.0,595.2L1600.5,595.5L1601.8,595.8" fill="none" stroke="#00b068" stroke-width="9.0" stroke-linecap="round" stroke-linejoin="round"/><use href="#c4" x="1.3"/>
<path id="c5" transform="translate(-0.65 0)" d="M189.4,1170.8L189.6,1170.3L190.0,1168.8L190.4,1167.4L190.8,1166.0L191.3,1164.5L191.7,1163.1L192.1,1161.6L192.5,1160.2L193.0,1158.8L193.4,1157.3L193.8,1155.9L194.3,1154.5L194.7,1153.0L195.1,1151.6L195.5,1150.1L196.0,1148.7L196.4,1147.3L196.8,1145.8L197.3,1144.4L197.7,1143.0L198.0,1142.0M222.7,1059.6L223.2,1058.2L223.6,1056.8L224.0,1055.3L224.5,1053.9L224.9,1052.5L225.3,1051.0L225.8,1049.6L226.2,1048.2L226.6,1046.7L227.1,1045.3L227.5,1043.8L227.9,1042.4L228.4,1041.0L228.8,1039.5L229.3,1038.1L229.7,1036.7L230.1,1035.2L230.6,1033.8L231.0,1032.4L231.4,1030.9M256.6,948.7L256.9,947.8L257.4,946.3L257.8,944.9L258.3,943.5L258.7,942.0L259.2,940.6L259.6,939.2L260.0,937.7L260.5,936.3L260.9,934.9L261.4,933.4L261.8,932.0L262.3,930.6L262.7,929.1L263.1,927.7L263.6,926.3L264.0,924.8L264.5,923.4L264.9,922.0L265.4,920.5L265.5,920.0M291.2,838.0L291.3,837.5L291.8,836.1L292.2,834.6L292.7,833.2L293.1,831.8L293.6,830.3L294.0,828.9L294.5,827.5L294.9,826.0L295.4,824.6L295.8,823.2L296.3,821.8L296.7,820.3L297.2,818.9L297.6,817.5L298.1,816.0L298.6,814.6L299.0,813.2L299.5,811.7L299.9,810.3L300.2,809.4M326.3,727.4L326.8,726.0L327.2,724.6L327.7,723.1L328.2,721.7L328.6,720.3L329.1,718.9L329.5,717.4L330.0,716.0L330.5,714.6L330.9,713.1L331.4,711.7L331.8,710.3L332.3,708.9L332.8,707.4L333.2,706.0L333.7,704.6L334.1,703.1L334.6,701.7L335.1,700.3L335.5,698.9M364.7,611.4L365.0,610.7L365.5,609.2L366.0,607.8L366.5,606.4L367.0,605.0L367.4,603.6L367.9,602.2L368.4,600.7L368.9,599.3L369.4,597.9L369.9,596.5L370.4,595.1L370.9,593.7L371.4,592.3L371.9,590.8L372.4,589.4L372.9,588.0L373.4,586.6L373.9,585.2L374.4,583.8L374.7,583.1M404.1,495.6L404.6,494.2L405.1,492.8L405.7,491.4L406.2,490.0L406.8,488.6L407.3,487.2L407.9,485.9L408.5,484.5L409.1,483.1L409.7,481.7L410.3,480.3L410.8,478.9L411.4,477.6L412.0,476.2L412.6,474.8L413.1,473.4L413.7,472.0L414.3,470.6L414.9,469.2L415.4,467.9M450.2,388.1L450.8,386.7L451.4,385.4L452.0,384.0L452.6,382.6L453.2,381.3L453.9,379.9L454.5,378.5L455.1,377.2L455.7,375.8L456.3,374.4L456.9,373.0L457.6,371.7L458.2,370.3L458.8,369.0L459.4,367.6L460.1,366.2L460.7,364.9L461.3,363.5L462.0,362.2L462.6,360.8M504.6,284.7L505.5,283.5L506.3,282.2L507.1,281.0L508.0,279.8L508.8,278.5L509.7,277.3L510.5,276.0L511.4,274.8L512.2,273.6L513.1,272.3L513.9,271.1L514.8,269.9L515.7,268.6L516.5,267.4L517.4,266.2L518.2,265.0L519.1,263.7L520.0,262.5L520.8,261.3L521.7,260.1M583.2,195.4L584.6,194.6L585.9,193.9L587.2,193.1L588.5,192.3L589.8,191.6L591.1,190.8L592.4,190.1L593.7,189.4L595.0,188.6L596.3,187.9L597.6,187.2L598.9,186.4L600.2,185.7L601.5,185.0L602.8,184.2L604.1,183.5L605.4,182.7L606.7,181.9L608.0,181.1L609.2,180.4M691.6,160.4L692.7,160.5L694.2,160.7L695.7,160.9L697.2,161.1L698.6,161.3L700.1,161.5L701.6,161.8L703.1,162.0L704.6,162.2L706.1,162.3L707.6,162.5L709.1,162.6L710.6,162.8L712.1,162.9L713.6,163.1L715.1,163.3L716.6,163.4L718.0,163.6L719.5,163.8L721.0,164.0L721.4,164.1M205.1,1118.1L205.4,1117.1L205.8,1115.6L206.3,1114.2L206.6,1113.3M213.9,1088.9L214.1,1088.4L214.5,1086.9L214.9,1085.5L215.3,1084.0L215.5,1083.6M238.7,1007.1L238.9,1006.5L239.3,1005.1L239.8,1003.7L240.2,1002.3M247.6,977.9L248.1,976.4L248.5,975.0L249.0,973.6L249.3,972.6M272.9,896.2L273.4,894.7L273.8,893.3L274.3,891.9L274.4,891.4M282.0,867.1L282.3,866.1L282.8,864.7L283.2,863.2L283.7,861.9M307.8,785.6L308.1,784.6L308.5,783.1L309.0,781.7L309.3,780.8M317.0,756.5L317.2,756.0L317.6,754.6L318.1,753.1L318.5,751.7L318.7,751.3M344.0,673.0L344.4,671.8L344.8,670.3L345.3,668.9L345.5,668.2M354.1,642.5L354.3,641.9L354.8,640.5L355.3,639.0L355.7,637.6L355.9,637.2M383.3,557.2L383.4,556.7L383.9,555.3L384.4,553.9L384.9,552.5M393.9,526.9L394.3,525.6L394.8,524.2L395.3,522.7L395.7,521.7M425.3,444.5L426.0,443.0L426.6,441.6L427.2,440.3L427.4,440.0M438.0,416.5L438.3,415.7L438.9,414.3L439.5,412.9L440.1,411.5M474.0,338.2L474.8,336.7L475.4,335.4L476.1,334.0L476.3,333.7M488.2,310.9L488.6,310.1L489.4,308.8L490.1,307.5L490.9,306.1M538.0,239.3L538.4,238.8L539.3,237.7L540.3,236.5L541.2,235.4M558.0,214.9L558.4,214.4L559.4,213.3L560.4,212.2L561.4,211.2L561.7,210.9M631.7,169.7L632.3,169.5L633.7,169.0L635.1,168.5L636.4,168.0M661.1,161.9L662.8,161.7L664.3,161.4L665.8,161.3L666.6,161.2M748.4,171.8L749.8,172.3L751.2,172.8L752.6,173.4L754.0,173.9L755.4,174.4L756.8,174.9L758.2,175.4L759.7,175.9L761.1,176.4L762.5,176.8L763.9,177.3L765.3,177.8L766.8,178.3L768.2,178.8L769.6,179.3L771.0,179.8L772.4,180.3L773.8,180.8L775.2,181.4L776.6,181.9M856.2,223.2L857.6,224.1L858.8,224.9L860.1,225.8L861.3,226.6L862.6,227.4L863.8,228.3L865.1,229.1L866.3,229.9L867.6,230.8L868.8,231.6L870.1,232.4L871.3,233.3L872.5,234.1L873.8,235.0L875.0,235.8L876.2,236.7L877.5,237.5L878.7,238.4L880.0,239.2L881.1,240.0M954.9,288.4L956.3,289.5L957.5,290.5L958.7,291.4L959.8,292.3L961.0,293.3L962.1,294.3L963.3,295.2L964.4,296.2L965.6,297.2L966.7,298.1L967.9,299.1L969.0,300.1L970.1,301.1L971.3,302.0L972.5,303.0L973.6,303.9L974.8,304.9L975.9,305.8L977.1,306.8L978.1,307.5M1045.4,355.4L1046.8,356.3L1048.1,357.0L1049.3,357.8L1050.6,358.6L1051.9,359.3L1053.2,360.1L1054.5,360.8L1055.8,361.6L1057.1,362.3L1058.4,363.1L1059.7,363.8L1061.0,364.6L1062.3,365.3L1063.7,366.0L1065.0,366.7L1066.3,367.5L1067.6,368.2L1068.9,368.9L1070.2,369.6L1071.4,370.3M1143.9,414.5L1144.5,414.9L1145.8,415.6L1147.1,416.4L1148.4,417.1L1149.7,417.9L1151.0,418.6L1152.3,419.4L1153.6,420.2L1154.9,420.9L1156.2,421.7L1157.4,422.5L1158.7,423.3L1160.0,424.0L1161.3,424.8L1162.6,425.6L1163.9,426.3L1165.2,427.1L1166.5,427.8L1167.8,428.6L1169.1,429.3L1169.7,429.7M1245.6,469.8L1245.9,470.0L1247.3,470.6L1248.7,471.2L1250.0,471.9L1251.4,472.5L1252.8,473.1L1254.1,473.7L1255.5,474.4L1256.9,475.0L1258.2,475.6L1259.6,476.2L1261.0,476.8L1262.3,477.4L1263.7,478.0L1265.1,478.6L1266.5,479.2L1267.8,479.8L1269.2,480.4L1270.6,481.0L1272.0,481.6L1273.0,482.0M1356.0,519.4L1356.8,519.7L1358.2,520.3L1359.5,520.9L1360.9,521.5L1362.3,522.0L1363.7,522.6L1365.1,523.2L1366.5,523.7L1367.9,524.3L1369.3,524.8L1370.7,525.4L1372.1,526.0L1373.5,526.5L1374.9,527.1L1376.3,527.6L1377.6,528.1L1379.0,528.7L1380.5,529.2L1381.9,529.7L1383.3,530.3L1383.9,530.5M1469.7,558.3L1470.3,558.4L1471.7,558.9L1473.1,559.4L1474.6,559.8L1476.0,560.3L1477.4,560.7L1478.9,561.2L1480.3,561.6L1481.7,562.1L1483.1,562.6L1484.6,563.0L1486.0,563.5L1487.4,563.9L1488.9,564.4L1490.3,564.9L1491.7,565.3L1493.1,565.8L1494.6,566.2L1496.0,566.7L1497.4,567.1L1498.3,567.4M1587.2,594.0L1588.0,594.2L1589.4,594.5L1590.9,594.9L1592.3,595.2L1593.8,595.6L1595.3,595.9L1596.7,596.2L1598.2,596.5L1599.7,596.8L1601.1,597.1L1601.8,597.3M801.0,191.9L801.6,192.2L802.9,192.8L804.3,193.5L805.5,194.1M828.9,206.6L829.4,207.0L830.7,207.7L832.0,208.5L833.3,209.2L833.6,209.4M902.6,254.3L903.7,255.0L904.9,255.8L906.2,256.7L906.8,257.0M929.1,270.6L930.5,271.5L931.8,272.3L933.1,273.1L933.7,273.5M996.8,322.0L997.3,322.3L998.5,323.2L999.7,324.1L1000.9,325.0M1021.0,339.1L1021.8,339.7L1023.0,340.5L1024.3,341.4L1025.5,342.2M1092.8,382.4L1093.7,383.0L1095.0,383.8L1096.2,384.6L1097.0,385.1M1118.2,398.6L1119.0,399.1L1120.3,399.9L1121.5,400.7L1122.9,401.6M1191.4,442.0L1192.6,442.6L1193.9,443.4L1195.2,444.1L1195.8,444.4M1218.1,456.6L1218.9,457.0L1220.2,457.7L1221.6,458.4L1223.0,459.1M1297.2,493.5L1297.8,493.7L1299.1,494.3L1300.5,495.0L1301.7,495.6M1326.3,506.5L1327.9,507.2L1329.3,507.8L1330.6,508.4L1331.3,508.7M1408.9,539.4L1410.1,539.8L1411.5,540.3L1413.0,540.7L1413.6,540.9M1439.1,548.4L1440.3,548.8L1441.7,549.2L1443.2,549.7L1444.4,550.0M1524.6,575.2L1526.2,575.6L1527.6,576.1L1529.1,576.5L1529.4,576.6M1555.5,584.8L1556.3,585.0L1557.7,585.5L1559.1,585.9L1560.7,586.4" fill="none" stroke="#c47be2" stroke-width="9.0" stroke-linecap="round" stroke-linejoin="round"/><use href="#c5" x="1.3"/>
<path id="c6" transform="translate(-0.65 0)" d="M187.0,1178.9L187.4,1177.5L187.9,1176.0L188.3,1174.6L188.7,1173.1L189.1,1171.7L189.6,1170.3L190.0,1168.8L190.4,1167.4L190.9,1165.9M197.0,1145.4L197.3,1144.4L197.7,1143.0L198.1,1141.5L198.5,1140.1L199.0,1138.6L199.4,1137.2L199.8,1135.8L200.3,1134.3L200.7,1132.9L201.0,1131.9M207.3,1110.9L207.6,1109.9L208.0,1108.5L208.4,1107.0L208.9,1105.6L209.3,1104.2L209.7,1102.7L210.2,1101.3L210.6,1099.8L211.0,1098.4L211.3,1097.5M218.1,1075.0L218.4,1074.0L218.8,1072.6L219.2,1071.1L219.7,1069.7L220.1,1068.2L220.6,1066.8L221.0,1065.4L221.4,1063.9L221.9,1062.5L222.1,1061.5M228.1,1041.9L228.4,1041.0L228.8,1039.5L229.3,1038.1L229.7,1036.7L230.1,1035.2L230.6,1033.8L231.0,1032.4L231.4,1030.9L231.9,1029.5L232.2,1028.5M238.4,1008.0L238.9,1006.5L239.3,1005.1L239.8,1003.7L240.2,1002.2L240.6,1000.8L241.1,999.4L241.5,997.9L241.9,996.5L242.4,995.1L242.5,994.6M248.8,974.0L249.0,973.6L249.4,972.1L249.9,970.7L250.3,969.3L250.8,967.8L251.2,966.4L251.6,965.0L252.1,963.5L252.5,962.1L253.0,960.7M259.3,940.1L259.6,939.2L260.0,937.7L260.5,936.3L260.9,934.9L261.4,933.4L261.8,932.0L262.3,930.6L262.7,929.1L263.1,927.7L263.4,926.7M269.8,906.2L270.3,904.8L270.7,903.3L271.2,901.9L271.6,900.5L272.0,899.0L272.5,897.6L272.9,896.2L273.4,894.7L273.8,893.3L274.0,892.8M280.4,872.3L280.5,871.8L281.0,870.4L281.4,869.0L281.9,867.5L282.3,866.1L282.8,864.7L283.2,863.2L283.7,861.8L284.1,860.4L284.6,859.0M291.0,838.4L291.3,837.5L291.8,836.1L292.2,834.6L292.7,833.2L293.1,831.8L293.6,830.3L294.0,828.9L294.5,827.5L294.9,826.0L295.2,825.1M301.4,805.5L301.7,804.6L302.2,803.2L302.6,801.7L303.1,800.3L303.5,798.9L304.0,797.4L304.4,796.0L304.9,794.6L305.3,793.2L305.6,792.2M312.8,769.8L313.1,768.9L313.5,767.4L314.0,766.0L314.4,764.6L314.9,763.1L315.4,761.7L315.8,760.3L316.3,758.8L316.7,757.4L317.0,756.5M323.3,736.9L323.6,736.0L324.0,734.6L324.5,733.1L325.0,731.7L325.4,730.3L325.9,728.8L326.3,727.4L326.8,726.0L327.2,724.6L327.6,723.6M333.8,704.1L334.1,703.1L334.6,701.7L335.1,700.3L335.5,698.9L336.0,697.4L336.5,696.0L336.9,694.6L337.4,693.2L337.8,691.7L338.2,690.8M345.0,669.9L345.3,668.9L345.8,667.5L346.2,666.1L346.7,664.6L347.2,663.2L347.7,661.8L348.1,660.4L348.6,659.0L349.1,657.5L349.4,656.6M356.4,635.7L356.7,634.8L357.2,633.4L357.7,631.9L358.2,630.5L358.6,629.1L359.1,627.7L359.6,626.3L360.1,624.8L360.6,623.4L360.9,622.5M367.6,603.1L367.9,602.2L368.4,600.7L368.9,599.3L369.4,597.9L369.9,596.5L370.4,595.1L370.9,593.7L371.4,592.3L371.9,590.8L372.3,589.9M379.7,569.2L380.1,568.3L380.6,566.9L381.1,565.4L381.6,564.0L382.1,562.6L382.7,561.2L383.2,559.8L383.7,558.4L384.2,557.0L384.6,556.1M392.4,535.5L392.7,534.6L393.3,533.2L393.8,531.8L394.4,530.4L394.9,529.0L395.4,527.6L396.0,526.2L396.5,524.8L397.1,523.4L397.5,522.4M405.6,502.0L406.0,501.1L406.6,499.7L407.1,498.3L407.7,496.9L408.3,495.5L408.9,494.2L409.4,492.8L410.0,491.4L410.6,490.0L411.0,489.1M419.6,468.8L420.0,467.9L420.6,466.5L421.2,465.2L421.7,463.8L422.3,462.4L422.9,461.0L423.6,459.7L424.2,458.3L424.8,456.9L425.2,456.0M434.8,434.6L435.2,433.6L435.8,432.3L436.4,430.9L437.1,429.6L437.7,428.2L438.3,426.8L438.9,425.5L439.6,424.1L440.2,422.7L440.6,421.8M448.7,404.6L449.1,403.7L449.8,402.4L450.4,401.0L451.1,399.7L451.7,398.3L452.4,397.0L453.0,395.6L453.7,394.3L454.3,392.9L454.8,392.0M463.8,373.6L464.2,372.7L464.9,371.4L465.5,370.0L466.2,368.7L466.9,367.3L467.5,366.0L468.2,364.6L468.9,363.3L469.6,362.0L470.0,361.1M479.3,342.8L479.8,341.9L480.5,340.6L481.2,339.3L481.8,337.9L482.5,336.6L483.2,335.3L483.9,333.9L484.6,332.6L485.3,331.3L485.8,330.4M496.3,311.1L496.8,310.2L497.5,308.9L498.3,307.6L499.0,306.3L499.8,305.0L500.5,303.7L501.2,302.4L502.0,301.1L502.7,299.8L503.2,298.9M513.0,282.6L513.5,281.7L514.3,280.4L515.1,279.2L515.8,277.9L516.6,276.6L517.4,275.4L518.2,274.1L519.0,272.8L519.8,271.6L520.4,270.7M530.9,254.9L531.4,254.0L532.3,252.8L533.1,251.6L534.0,250.3L534.8,249.1L535.7,247.9L536.6,246.6L537.4,245.4L538.3,244.2L538.9,243.4M549.4,229.4L550.0,228.6L550.9,227.4L551.8,226.2L552.8,225.1L553.7,223.9L554.7,222.7L555.6,221.6L556.6,220.4L557.6,219.3L558.2,218.5M571.0,204.5L571.7,203.8L572.8,202.7L573.8,201.7L574.9,200.6L576.0,199.6L577.1,198.5L578.2,197.5L579.3,196.5L580.4,195.5L581.1,194.8M595.9,182.9L596.7,182.3L597.9,181.4L599.2,180.6L600.4,179.7L601.7,178.9L602.9,178.1L604.2,177.3L605.5,176.5L606.7,175.7L607.6,175.2M627.3,165.5L628.3,165.2L629.7,164.6L631.1,164.1L632.5,163.6L633.9,163.1L635.3,162.7L636.8,162.2L638.2,161.8L639.6,161.4L640.6,161.1M662.2,157.2L663.2,157.1L664.7,157.0L666.2,156.8L667.7,156.8L669.2,156.7L670.7,156.6L672.2,156.6L673.7,156.6L675.2,156.6L676.2,156.6M696.6,158.6L697.6,158.8L699.0,159.1L700.5,159.4L702.0,159.7L703.4,160.1L704.9,160.5L706.3,160.9L707.7,161.3L709.2,161.8L710.1,162.1M730.6,170.1L731.5,170.5L732.9,171.1L734.3,171.6L735.7,172.2L737.1,172.8L738.5,173.3L739.9,173.9L741.3,174.4L742.7,175.0L743.6,175.3M760.0,181.3L761.0,181.7L762.4,182.2L763.8,182.7L765.2,183.2L766.6,183.7L768.0,184.2L769.5,184.7L770.9,185.2L772.3,185.7L773.2,186.0M792.4,193.3L793.3,193.6L794.7,194.2L796.1,194.8L797.5,195.3L798.9,195.9L800.2,196.5L801.6,197.1L803.0,197.7L804.4,198.4L805.3,198.8M821.0,206.5L821.9,207.0L823.2,207.7L824.5,208.4L825.8,209.1L827.1,209.8L828.5,210.5L829.8,211.2L831.1,212.0L832.4,212.7L833.3,213.2M850.9,223.6L851.8,224.1L853.0,224.9L854.3,225.7L855.6,226.5L856.9,227.3L858.1,228.1L859.4,228.9L860.7,229.7L862.0,230.5L862.8,231.0M880.1,242.0L880.9,242.6L882.2,243.4L883.4,244.2L884.7,245.0L886.0,245.8L887.2,246.6L888.5,247.4L889.8,248.3L891.0,249.1L891.9,249.6M910.4,261.4L911.3,262.0L912.5,262.8L913.8,263.6L915.1,264.4L916.3,265.1L917.6,265.9L918.9,266.7L920.2,267.5L921.5,268.3L922.3,268.8M940.8,280.7L941.6,281.3L942.9,282.2L944.1,283.0L945.3,283.9L946.5,284.8L947.7,285.7L948.9,286.6L950.1,287.5L951.3,288.4L952.1,289.0M967.8,302.1L968.6,302.8L969.8,303.7L970.9,304.7L972.1,305.6L973.2,306.6L974.4,307.6L975.5,308.5L976.7,309.5L977.9,310.4L978.6,311.0M996.1,324.5L996.9,325.0L998.1,325.9L999.3,326.8L1000.5,327.7L1001.7,328.6L1002.9,329.5L1004.2,330.3L1005.4,331.2L1006.6,332.1L1007.4,332.7M1024.3,344.4L1025.1,344.9L1026.3,345.8L1027.6,346.6L1028.8,347.4L1030.1,348.3L1031.3,349.1L1032.5,349.9L1033.8,350.8L1035.0,351.6L1035.9,352.2M1054.3,364.2L1055.1,364.8L1056.4,365.6L1057.6,366.4L1058.9,367.2L1060.1,368.0L1061.4,368.9L1062.7,369.7L1063.9,370.5L1065.2,371.3L1066.0,371.9M1083.2,383.1L1084.0,383.6L1085.3,384.4L1086.5,385.3L1087.8,386.1L1089.0,386.9L1090.3,387.7L1091.5,388.6L1092.8,389.4L1094.0,390.2L1094.8,390.8M1113.1,403.0L1114.0,403.6L1115.2,404.4L1116.5,405.2L1117.7,406.0L1119.0,406.9L1120.2,407.7L1121.5,408.5L1122.8,409.3L1124.0,410.1L1124.9,410.7M1142.3,421.5L1143.1,422.0L1144.4,422.7L1145.7,423.5L1147.0,424.2L1148.3,425.0L1149.6,425.7L1151.0,426.5L1152.3,427.2L1153.6,427.9L1154.5,428.4M1173.9,438.6L1174.8,439.1L1176.1,439.8L1177.5,440.4L1178.8,441.1L1180.2,441.8L1181.5,442.5L1182.8,443.2L1184.2,443.9L1185.5,444.5L1186.4,445.0M1207.3,455.7L1208.2,456.2L1209.5,456.9L1210.9,457.5L1212.2,458.2L1213.5,458.9L1214.9,459.6L1216.2,460.3L1217.5,461.0L1218.9,461.6L1219.8,462.1M1236.7,470.7L1237.6,471.2L1238.9,471.9L1240.3,472.5L1241.6,473.2L1242.9,473.9L1244.3,474.6L1245.6,475.2L1247.0,475.9L1248.3,476.6L1249.2,477.0M1268.9,486.9L1269.8,487.3L1271.1,488.0L1272.5,488.6L1273.8,489.3L1275.2,489.9L1276.5,490.6L1277.9,491.3L1279.2,491.9L1280.5,492.6L1281.4,493.0M1301.3,502.5L1302.2,502.9L1303.6,503.6L1304.9,504.2L1306.3,504.8L1307.6,505.5L1309.0,506.1L1310.4,506.7L1311.7,507.4L1313.1,508.0L1314.0,508.4M1332.7,516.8L1333.6,517.2L1335.0,517.8L1336.4,518.4L1337.7,519.0L1339.1,519.6L1340.5,520.2L1341.9,520.8L1343.2,521.4L1344.6,522.0L1345.5,522.3M1364.5,530.2L1365.4,530.5L1366.8,531.1L1368.2,531.7L1369.6,532.2L1371.0,532.8L1372.4,533.3L1373.8,533.8L1375.2,534.4L1376.6,534.9L1377.5,535.3M1398.2,542.9L1399.1,543.2L1400.5,543.7L1401.9,544.2L1403.4,544.7L1404.8,545.2L1406.2,545.7L1407.6,546.2L1409.0,546.7L1410.5,547.1L1411.4,547.5M1429.5,553.3L1430.4,553.6L1431.9,554.0L1433.3,554.5L1434.7,554.9L1436.2,555.4L1437.6,555.8L1439.0,556.2L1440.5,556.7L1441.9,557.1L1442.9,557.4M1464.0,563.6L1464.9,563.9L1466.4,564.3L1467.8,564.7L1469.3,565.1L1470.7,565.6L1472.1,566.0L1473.6,566.4L1475.0,566.8L1476.5,567.2L1477.4,567.5M1498.6,573.5L1499.5,573.8L1501.0,574.2L1502.4,574.6L1503.9,575.1L1505.3,575.5L1506.8,575.9L1508.2,576.3L1509.6,576.7L1511.1,577.1L1512.0,577.4M1533.1,583.7L1534.1,584.0L1535.5,584.5L1536.9,584.9L1538.4,585.4L1539.8,585.8L1541.2,586.2L1542.7,586.7L1544.1,587.2L1545.5,587.6L1546.5,587.9M1564.6,593.6L1565.5,593.9L1567.0,594.3L1568.4,594.8L1569.9,595.2L1571.3,595.6L1572.7,596.1L1574.2,596.5L1575.6,596.9L1577.1,597.3L1578.0,597.6M1593.5,601.5L1594.5,601.8L1596.0,602.1L1597.4,602.4L1598.9,602.7L1600.4,603.0L1601.8,603.3L1603.3,603.6L1604.8,603.8L1606.3,604.1L1607.3,604.3" fill="none" stroke="#dc9a00" stroke-width="9.0" stroke-linecap="round" stroke-linejoin="round"/><use href="#c6" x="1.3"/>
</g>
<rect x="183.00" y="22.00" width="7.00" height="1160.30" fill="#000"/>
<rect x="183.00" y="22.00" width="1427.00" height="7.00" fill="#000"/>
<rect x="1603.00" y="22.00" width="7.00" height="1160.30" fill="#000"/>
<rect x="183.00" y="1176.00" width="1427.00" height="6.30" fill="#000"/>
<rect x="190.00" y="907.03" width="19.00" height="7.00" fill="#000"/>
<rect x="190.00" y="638.65" width="19.00" height="7.00" fill="#000"/>
<rect x="190.00" y="370.28" width="19.00" height="7.00" fill="#000"/>
<rect x="190.00" y="101.90" width="19.00" height="7.00" fill="#000"/>
<rect x="190.00" y="1041.31" width="8.00" height="6.80" fill="#000"/>
<rect x="190.00" y="772.94" width="8.00" height="6.80" fill="#000"/>
<rect x="190.00" y="504.56" width="8.00" height="6.80" fill="#000"/>
<rect x="190.00" y="236.19" width="8.00" height="6.80" fill="#000"/>
<rect x="589.00" y="1156.00" width="7.10" height="20.50" fill="#000"/>
<rect x="995.00" y="1156.00" width="7.10" height="20.50" fill="#000"/>
<rect x="1400.00" y="1156.00" width="7.10" height="20.50" fill="#000"/>
<text x="161.50" y="1199.50" font-size="68.2" text-anchor="end" letter-spacing="-1.5">0</text>
<text x="161.50" y="931.13" font-size="68.2" text-anchor="end" letter-spacing="-1.5">5</text>
<text x="161.50" y="662.75" font-size="68.2" text-anchor="end" letter-spacing="-1.5">10</text>
<text x="161.50" y="394.38" font-size="68.2" text-anchor="end" letter-spacing="-1.5">15</text>
<text x="161.50" y="126.00" font-size="68.2" text-anchor="end" letter-spacing="-1.5">20</text>
<text x="185.90" y="1254.60" font-size="68.2" text-anchor="middle" letter-spacing="-1.5">0.000</text>
<text x="590.17" y="1254.60" font-size="68.2" text-anchor="middle" letter-spacing="-1.5">0.001</text>
<text x="997.04" y="1254.60" font-size="68.2" text-anchor="middle" letter-spacing="-1.5">0.002</text>
<text x="1401.61" y="1254.60" font-size="68.2" text-anchor="middle" letter-spacing="-1.5">0.003</text>
<text x="820.00" y="1339.50" font-size="75.5" text-anchor="middle" letter-spacing="-2.0">Strain</text>
<text transform="translate(71.00,622.40) rotate(-90)" font-size="75" text-anchor="middle" letter-spacing="-1.85">Stress (MPa)</text>
<text x="1085.00" y="96.00" font-size="61.5" text-anchor="start" letter-spacing="-0.8">ITZMP</text>
<path d="M1086.6,149.5 L1219.3,149.5" stroke="#767676" stroke-width="9.2" stroke-linecap="round" fill="none"/>
<path d="M1086.6,223.5 L1219.3,223.5" stroke="#006fe6" stroke-width="9.2" stroke-linecap="round" fill="none" stroke-dasharray="4.8 42.05"/>
<path d="M1086.6,297.4 L1219.3,297.4" stroke="#c47be2" stroke-width="9.2" stroke-linecap="round" fill="none" stroke-dasharray="29.7 26.3 4.8 26.5 5.3 26.4"/>
<path d="M1353.6,149.5 L1486.5,149.5" stroke="#ff4040" stroke-width="9.2" stroke-linecap="round" fill="none" stroke-dasharray="33.3 45.5"/>
<path d="M1353.6,223.5 L1486.5,223.5" stroke="#00b068" stroke-width="9.2" stroke-linecap="round" fill="none" stroke-dasharray="40.8 26.1 5.5 26.6"/>
<path d="M1353.6,297.4 L1486.5,297.4" stroke="#dc9a00" stroke-width="9.2" stroke-linecap="round" fill="none" stroke-dasharray="12.8 22.4"/>
<text x="1234.50" y="170.00" font-size="61.5" text-anchor="start" letter-spacing="-1.2">0.45</text>
<text x="1234.50" y="244.00" font-size="61.5" text-anchor="start" letter-spacing="-1.2">0.75</text>
<text x="1234.50" y="318.00" font-size="61.5" text-anchor="start" letter-spacing="-1.2">0.85</text>
<text x="1501.40" y="170.00" font-size="61.5" text-anchor="start" letter-spacing="-1.2">0.6</text>
<text x="1501.40" y="244.00" font-size="61.5" text-anchor="start" letter-spacing="-1.2">0.8</text>
<text x="1501.40" y="318.00" font-size="61.5" text-anchor="start" letter-spacing="-1.2">0.9</text>
<path d="M382.8,1012.4 L425,986" stroke="#000" stroke-width="6.3" fill="none"/>
<polygon points="419.0,977.3 444.5,968.1 450.9,968.8 451.3,972.3 429.9,994.3" fill="#000" stroke="#000" stroke-width="0.8" stroke-linejoin="round"/>
<g clip-path="url(#ci)">
<path id="c7" transform="translate(-0.65 0)" d="M568.3,1045.9L569.0,1045.1L569.7,1044.4L570.4,1043.7L571.1,1043.0L571.8,1042.2L572.5,1041.5L573.2,1040.8L573.9,1040.1L574.6,1039.4L575.3,1038.6L576.0,1037.9L576.7,1037.2L577.3,1036.5L578.0,1035.7L578.7,1035.0L579.4,1034.3L580.1,1033.6L580.8,1032.9L581.5,1032.1L582.2,1031.4L582.9,1030.7L583.6,1030.0L584.3,1029.2L585.0,1028.5L585.7,1027.8L586.4,1027.1L587.1,1026.4L587.8,1025.6L588.5,1024.9L589.1,1024.2L589.8,1023.5L590.5,1022.7L591.2,1022.0L591.9,1021.3L592.6,1020.6L593.3,1019.9L594.0,1019.1L594.7,1018.4L595.4,1017.7L596.1,1017.0L596.8,1016.2L597.5,1015.5L598.2,1014.8L598.9,1014.1L599.6,1013.4L600.3,1012.6L601.0,1011.9L601.6,1011.2L602.3,1010.5L603.0,1009.7L603.7,1009.0L604.4,1008.3L605.1,1007.6L605.8,1006.9L606.5,1006.1L607.2,1005.4L607.9,1004.7L608.6,1004.0L609.3,1003.2L610.0,1002.5L610.7,1001.8L611.4,1001.1L612.1,1000.4L612.8,999.6L613.4,998.9L614.1,998.2L614.8,997.5L615.5,996.7L616.2,996.0L616.9,995.3L617.6,994.6L618.3,993.9L619.0,993.1L619.7,992.4L620.4,991.7L621.1,991.0L621.8,990.2L622.5,989.5L623.2,988.8L623.9,988.1L624.6,987.4L625.3,986.6L625.9,985.9L626.6,985.2L627.3,984.5L628.0,983.7L628.7,983.0L629.4,982.3L630.1,981.6L630.8,980.8L631.5,980.1L632.2,979.4L632.9,978.7L633.6,978.0L634.3,977.2L635.0,976.5L635.7,975.8L636.4,975.1L637.1,974.3L637.8,973.6L638.4,972.9L639.1,972.2L639.8,971.5L640.5,970.7L641.2,970.0L641.9,969.3L642.6,968.6L643.3,967.8L644.0,967.1L644.7,966.4L645.4,965.7L646.1,965.0L646.8,964.2L647.5,963.5L648.2,962.8L648.9,962.1L649.6,961.3L650.2,960.6L650.9,959.9L651.6,959.2L652.3,958.5L653.0,957.7L653.7,957.0L654.4,956.3L655.1,955.6L655.8,954.8L656.5,954.1L657.2,953.4L657.9,952.7L658.6,952.0L659.3,951.2L660.0,950.5L660.7,949.8L661.4,949.1L662.1,948.3L662.7,947.6L663.4,946.9L664.1,946.2L664.8,945.5L665.5,944.7L666.2,944.0L666.9,943.3L667.6,942.6L668.3,941.8L669.0,941.1L669.7,940.4L670.4,939.7L671.1,939.0L671.8,938.2L672.5,937.5L673.2,936.8L673.9,936.1L674.5,935.3L675.2,934.6L675.9,933.9L676.6,933.2L677.3,932.5L678.0,931.7L678.7,931.0L679.4,930.3L680.1,929.6L680.8,928.8L681.5,928.1L682.2,927.4L682.9,926.7L683.6,926.0L684.3,925.2L685.0,924.5L685.7,923.8L686.4,923.1L687.0,922.3L687.7,921.6L688.4,920.9L689.1,920.2L689.8,919.5L690.5,918.7L691.2,918.0L691.9,917.3L692.6,916.6L693.3,915.8L694.0,915.1L694.7,914.4L695.4,913.7L696.1,913.0L696.8,912.2L697.5,911.5L698.2,910.8L698.8,910.1L699.5,909.3L700.2,908.6L700.9,907.9L701.6,907.2L702.3,906.5L703.0,905.7L703.7,905.0L704.4,904.3L705.1,903.6L705.8,902.8L706.5,902.1L707.2,901.4L707.9,900.7L708.6,900.0L709.3,899.2L710.0,898.5L710.7,897.8L711.3,897.1L712.0,896.3L712.7,895.6L713.4,894.9L714.1,894.2L714.8,893.4L715.5,892.7L716.2,892.0L716.9,891.3L717.6,890.6L718.3,889.8L719.0,889.1L719.7,888.4L720.4,887.7L721.1,886.9L721.8,886.2L722.5,885.5L723.1,884.8L723.8,884.1L724.5,883.3L725.2,882.6L725.9,881.9L726.6,881.2L727.3,880.4L728.0,879.7L728.7,879.0L729.4,878.3L730.1,877.6L730.8,876.8L731.5,876.1L732.2,875.4L732.9,874.7L733.6,873.9L734.3,873.2L735.0,872.5L735.6,871.8L736.3,871.1L737.0,870.3L737.7,869.6L738.4,868.9L739.1,868.2L739.8,867.4L740.5,866.7L741.2,866.0L741.9,865.3L742.6,864.6L743.3,863.8L744.0,863.1L744.7,862.4L745.4,861.7L746.1,860.9L746.8,860.2L747.4,859.5L748.1,858.8L748.8,858.1L749.5,857.3L750.2,856.6L750.9,855.9L751.6,855.2L752.3,854.4L753.0,853.7L753.7,853.0L754.4,852.3L755.1,851.6L755.8,850.8L756.5,850.1L757.2,849.4L757.9,848.7L758.6,847.9L759.3,847.2L759.9,846.5L760.6,845.8L761.3,845.1L762.0,844.3L762.7,843.6L763.4,842.9L764.1,842.2L764.8,841.4L765.5,840.7L766.2,840.0L766.9,839.3L767.6,838.6L768.3,837.8L769.0,837.1L769.7,836.4L770.4,835.7L771.1,834.9L771.7,834.2L772.4,833.5L773.1,832.8L773.8,832.1L774.5,831.3L775.2,830.6L775.9,829.9L776.6,829.2L777.3,828.4L778.0,827.7L778.7,827.0L779.4,826.3L780.1,825.6L780.8,824.8L781.5,824.1L782.2,823.4L782.9,822.7L783.6,821.9L784.2,821.2L784.9,820.5L785.6,819.8L786.3,819.1L787.0,818.3L787.7,817.6L788.4,816.9L789.1,816.2L789.8,815.4L790.5,814.7L791.2,814.0L791.9,813.3L792.6,812.6L793.3,811.8L794.0,811.1L794.7,810.4L795.4,809.7L796.0,808.9L796.7,808.2L797.4,807.5L798.1,806.8L798.8,806.1L799.5,805.3L800.2,804.6L800.9,803.9L801.6,803.2L802.3,802.4L803.0,801.7L803.7,801.0L804.4,800.3L805.1,799.5L805.8,798.8L806.5,798.1L807.2,797.4L807.9,796.7L808.5,795.9L809.2,795.2L809.9,794.5L810.6,793.8L811.3,793.0L812.0,792.3L812.7,791.6L813.4,790.9L814.1,790.2L814.8,789.4L815.5,788.7L816.2,788.0L816.9,787.3L817.6,786.5L818.3,785.8L819.0,785.1L819.7,784.4L820.3,783.7L821.0,782.9L821.7,782.2L822.4,781.5L823.1,780.8L823.8,780.0L824.5,779.3L825.2,778.6L825.9,777.9L826.6,777.2L827.3,776.4L828.0,775.7L828.7,775.0L829.4,774.3L830.1,773.5L830.8,772.8L831.5,772.1L832.2,771.4L832.8,770.7L833.5,769.9L834.2,769.2L834.9,768.5L835.6,767.8L836.3,767.0L837.0,766.3L837.7,765.6L838.4,764.9L839.1,764.2L839.8,763.4L840.5,762.7L841.2,762.0L841.9,761.3L842.6,760.5L843.3,759.8L844.0,759.1L844.6,758.4L845.3,757.7L846.0,756.9L846.7,756.2L847.4,755.5L848.1,754.8L848.8,754.0L849.5,753.3L850.2,752.6L850.9,751.9L851.6,751.2L852.3,750.4L853.0,749.7L853.7,749.0L854.4,748.3L855.1,747.5L855.8,746.8L856.5,746.1L857.1,745.4L857.8,744.7L858.5,743.9L859.2,743.2L859.9,742.5L860.6,741.8L861.3,741.0L862.0,740.3L862.7,739.6L863.4,738.9L864.1,738.2L864.8,737.4L865.5,736.7L866.2,736.0L866.9,735.3L867.6,734.5L868.3,733.8L868.9,733.1L869.6,732.4L870.3,731.7L871.0,730.9L871.7,730.2L872.4,729.5L873.1,728.8L873.8,728.0L874.5,727.3L875.2,726.6L875.9,725.9L876.6,725.2L877.3,724.4L878.0,723.7L878.7,723.0L879.4,722.3L880.1,721.5L880.8,720.8L881.4,720.1L882.1,719.4L882.8,718.7L883.5,717.9L884.2,717.2L884.9,716.5L885.6,715.8L886.3,715.0L887.0,714.3L887.7,713.6L888.4,712.9L889.1,712.2L889.8,711.4L890.5,710.7L891.2,710.0L891.9,709.3L892.6,708.5L893.2,707.8L893.9,707.1L894.6,706.4L895.3,705.6L896.0,704.9L896.7,704.2L897.4,703.5L898.1,702.8L898.8,702.0L899.5,701.3L900.2,700.6L900.9,699.9L901.6,699.1L902.3,698.4L903.0,697.7L903.7,697.0L904.4,696.3L905.1,695.5L905.7,694.8L906.4,694.1L907.1,693.4L907.8,692.6L908.5,691.9L909.2,691.2L909.9,690.5L910.6,689.8L911.3,689.0L912.0,688.3L912.7,687.6L913.4,686.9L914.1,686.1L914.8,685.4L915.5,684.7L916.2,684.0L916.9,683.3L917.5,682.5L918.2,681.8L918.9,681.1L919.6,680.4L920.3,679.6L921.0,678.9L921.7,678.2L922.4,677.5L923.1,676.8L923.8,676.0L924.5,675.3L925.2,674.6L925.9,673.9L926.6,673.1L927.3,672.4L928.0,671.7L928.7,671.0L929.4,670.3L930.0,669.5L930.7,668.8L931.4,668.1L932.1,667.4L932.8,666.6L933.5,665.9L934.2,665.2L934.9,664.5L935.6,663.8L936.3,663.0L937.0,662.3L937.7,661.6L938.4,660.9L939.1,660.1L939.8,659.4L940.5,658.7L941.2,658.0L941.8,657.3L942.5,656.5L943.2,655.8L943.9,655.1L944.6,654.4L945.3,653.6L946.0,652.9L946.7,652.2L947.4,651.5L948.1,650.8L948.8,650.0L949.5,649.3L950.2,648.6L950.9,647.9L951.6,647.1L952.3,646.4L953.0,645.7L953.7,645.0L954.3,644.3L955.0,643.5L955.7,642.8L956.4,642.1L957.1,641.4L957.8,640.6L958.5,639.9L959.2,639.2L959.9,638.5L960.6,637.8L961.3,637.0L962.0,636.3L962.7,635.6L963.4,634.9L964.1,634.1L964.8,633.4L965.5,632.7L966.1,632.0L966.8,631.3L967.5,630.5L968.2,629.8L968.9,629.1L969.6,628.4L970.3,627.6L971.0,626.9L971.7,626.2L972.4,625.5L973.1,624.8L973.8,624.0L974.5,623.3L975.2,622.6L975.9,621.9L976.6,621.1L977.3,620.4L978.0,619.7L978.6,619.0L979.3,618.2L980.0,617.5L980.7,616.8L981.4,616.1L982.1,615.4L982.8,614.6L983.5,613.9L984.2,613.2L984.9,612.5L985.6,611.7L986.3,611.0L987.0,610.3L987.7,609.6L988.4,608.9L989.1,608.1L989.8,607.4L990.5,606.7L991.1,606.0L991.8,605.2L992.5,604.5L993.2,603.8L993.9,603.1L994.6,602.4L995.3,601.6L996.0,600.9L996.7,600.2L997.4,599.5L998.1,598.7L998.8,598.0L999.5,597.3L1000.2,596.6L1000.9,595.9L1001.6,595.1L1002.3,594.4L1002.9,593.7L1003.6,593.0L1004.3,592.2L1005.0,591.5L1005.7,590.8L1006.4,590.1L1007.1,589.4L1007.8,588.6L1008.5,587.9L1009.2,587.2L1009.9,586.5L1010.6,585.7L1011.3,585.0L1012.0,584.3L1012.7,583.6L1013.4,582.9L1014.1,582.1L1014.8,581.4L1015.4,580.7L1016.1,580.0L1016.8,579.2L1017.5,578.5L1018.2,577.8L1018.9,577.1L1019.6,576.4L1020.3,575.6L1021.0,574.9L1021.7,574.2L1022.4,573.5L1023.1,572.7L1023.8,572.0L1024.5,571.3L1025.2,570.6L1025.9,569.9L1026.6,569.1L1027.2,568.4L1027.9,567.7L1028.6,567.0L1029.3,566.2L1030.0,565.5L1030.7,564.8L1031.4,564.1L1032.1,563.4L1032.8,562.6L1033.5,561.9L1034.2,561.2L1034.9,560.5L1035.6,559.7" fill="none" stroke="#4d4d4d" stroke-width="7.4" stroke-linecap="butt" stroke-linejoin="round"/><use href="#c7" x="1.3"/>
<path d="M563.6,1034.6L564.3,1033.8L564.9,1033.1L565.6,1032.4L566.3,1031.6L567.0,1030.9L567.7,1030.2L568.4,1029.4L569.0,1028.7L569.7,1028.0L570.4,1027.2L571.1,1026.5L571.8,1025.8L572.4,1025.0L573.1,1024.3L573.8,1023.6L574.5,1022.8L575.2,1022.1L575.9,1021.4L576.5,1020.6L577.2,1019.9L577.9,1019.2L578.6,1018.4L579.3,1017.7L579.9,1017.0L580.6,1016.2L581.3,1015.5L582.0,1014.8L582.7,1014.0L583.3,1013.3L584.0,1012.5L584.7,1011.8L585.4,1011.1L586.1,1010.3L586.8,1009.6L587.4,1008.9L588.1,1008.1L588.8,1007.4L589.5,1006.7L590.2,1005.9L590.8,1005.2L591.5,1004.5L592.2,1003.7L592.9,1003.0L593.6,1002.3L594.3,1001.5L594.9,1000.8L595.6,1000.1L596.3,999.3L597.0,998.6L597.7,997.9L598.3,997.1L599.0,996.4L599.7,995.7L600.4,994.9L601.1,994.2L601.8,993.5L602.4,992.7L603.1,992.0L603.8,991.3L604.5,990.5L605.2,989.8L605.8,989.0L606.5,988.3L607.2,987.6L607.9,986.8L608.6,986.1L609.2,985.4L609.9,984.6L610.6,983.9L611.3,983.2L612.0,982.4L612.7,981.7L613.3,981.0L614.0,980.2L614.7,979.5L615.4,978.8L616.1,978.0L616.7,977.3L617.4,976.6L618.1,975.8L618.8,975.1L619.5,974.4L620.2,973.6L620.8,972.9L621.5,972.2L622.2,971.4L622.9,970.7L623.6,970.0L624.2,969.2L624.9,968.5L625.6,967.8L626.3,967.0L627.0,966.3L627.6,965.5L628.3,964.8L629.0,964.1L629.7,963.3L630.4,962.6L631.1,961.9L631.7,961.1L632.4,960.4L633.1,959.7L633.8,958.9L634.5,958.2L635.1,957.5L635.8,956.7L636.5,956.0L637.2,955.3L637.9,954.5L638.6,953.8L639.2,953.1L639.9,952.3L640.6,951.6L641.3,950.9L642.0,950.1L642.6,949.4L643.3,948.7L644.0,947.9L644.7,947.2L645.4,946.5L646.1,945.7L646.7,945.0L647.4,944.3L648.1,943.5L648.8,942.8L649.5,942.1L650.1,941.3L650.8,940.6L651.5,939.8L652.2,939.1L652.9,938.4L653.5,937.6L654.2,936.9L654.9,936.2L655.6,935.4L656.3,934.7L657.0,934.0L657.6,933.2L658.3,932.5L659.0,931.8L659.7,931.0L660.4,930.3L661.0,929.6L661.7,928.8L662.4,928.1L663.1,927.4L663.8,926.6L664.5,925.9L665.1,925.2L665.8,924.4L666.5,923.7L667.2,923.0L667.9,922.2L668.5,921.5L669.2,920.8L669.9,920.0L670.6,919.3L671.3,918.6L671.9,917.8L672.6,917.1L673.3,916.3L674.0,915.6L674.7,914.9L675.4,914.1L676.0,913.4L676.7,912.7L677.4,911.9L678.1,911.2L678.8,910.5L679.4,909.7L680.1,909.0L680.8,908.3L681.5,907.5L682.2,906.8L682.9,906.1L683.5,905.3L684.2,904.6L684.9,903.9L685.6,903.1L686.3,902.4L686.9,901.7L687.6,900.9L688.3,900.2L689.0,899.5L689.7,898.7L690.4,898.0L691.0,897.3L691.7,896.5L692.4,895.8L693.1,895.1L693.8,894.3L694.4,893.6L695.1,892.8L695.8,892.1L696.5,891.4L697.2,890.6L697.8,889.9L698.5,889.2L699.2,888.4L699.9,887.7L700.6,887.0L701.3,886.2L701.9,885.5L702.6,884.8L703.3,884.0L704.0,883.3L704.7,882.6L705.3,881.8L706.0,881.1L706.7,880.4L707.4,879.6L708.1,878.9L708.8,878.2L709.4,877.4L710.1,876.7L710.8,876.0L711.5,875.2L712.2,874.5L712.8,873.8L713.5,873.0L714.2,872.3L714.9,871.6L715.6,870.8L716.3,870.1L716.9,869.4L717.6,868.6L718.3,867.9L719.0,867.1L719.7,866.4L720.3,865.7L721.0,864.9L721.7,864.2L722.4,863.5L723.1,862.7L723.7,862.0L724.4,861.3L725.1,860.5L725.8,859.8L726.5,859.1L727.2,858.3L727.8,857.6L728.5,856.9L729.2,856.1L729.9,855.4L730.6,854.7L731.2,853.9L731.9,853.2L732.6,852.5L733.3,851.7L734.0,851.0L734.7,850.3L735.3,849.5L736.0,848.8L736.7,848.1L737.4,847.3L738.1,846.6L738.7,845.9L739.4,845.1L740.1,844.4L740.8,843.6L741.5,842.9L742.1,842.2L742.8,841.4L743.5,840.7L744.2,840.0L744.9,839.2L745.6,838.5L746.2,837.8L746.9,837.0L747.6,836.3L748.3,835.6L749.0,834.8L749.6,834.1L750.3,833.4L751.0,832.6L751.7,831.9L752.4,831.2L753.1,830.4L753.7,829.7L754.4,829.0L755.1,828.2L755.8,827.5L756.5,826.8L757.1,826.0L757.8,825.3L758.5,824.6L759.2,823.8L759.9,823.1L760.6,822.4L761.2,821.6L761.9,820.9L762.6,820.1L763.3,819.4L764.0,818.7L764.6,817.9L765.3,817.2L766.0,816.5L766.7,815.7L767.4,815.0L768.0,814.3L768.7,813.5L769.4,812.8L770.1,812.1L770.8,811.3L771.5,810.6L772.1,809.9L772.8,809.1L773.5,808.4L774.2,807.7L774.9,806.9L775.5,806.2L776.2,805.5L776.9,804.7L777.6,804.0L778.3,803.3L779.0,802.5L779.6,801.8L780.3,801.1L781.0,800.3L781.7,799.6L782.4,798.9L783.0,798.1L783.7,797.4L784.4,796.7L785.1,795.9L785.8,795.2L786.4,794.4L787.1,793.7L787.8,793.0L788.5,792.2L789.2,791.5L789.9,790.8L790.5,790.0L791.2,789.3L791.9,788.6L792.6,787.8L793.3,787.1L793.9,786.4L794.6,785.6L795.3,784.9L796.0,784.2L796.7,783.4L797.4,782.7L798.0,782.0L798.7,781.2L799.4,780.5L800.1,779.8L800.8,779.0L801.4,778.3L802.1,777.6L802.8,776.8L803.5,776.1L804.2,775.4L804.9,774.6L805.5,773.9L806.2,773.2L806.9,772.4L807.6,771.7L808.3,770.9L808.9,770.2L809.6,769.5L810.3,768.7L811.0,768.0L811.7,767.3L812.3,766.5L813.0,765.8L813.7,765.1L814.4,764.3L815.1,763.6L815.8,762.9L816.4,762.1L817.1,761.4L817.8,760.7L818.5,759.9L819.2,759.2L819.8,758.5L820.5,757.7L821.2,757.0L821.9,756.3L822.6,755.5L823.3,754.8L823.9,754.1L824.6,753.3L825.3,752.6L826.0,751.9L826.7,751.1L827.3,750.4L828.0,749.7L828.7,748.9L829.4,748.2L830.1,747.4L830.7,746.7L831.4,746.0L832.1,745.2L832.8,744.5L833.5,743.8L834.2,743.0L834.8,742.3L835.5,741.6L836.2,740.8L836.9,740.1L837.6,739.4L838.2,738.6L838.9,737.9L839.6,737.2L840.3,736.4L841.0,735.7L841.7,735.0L842.3,734.2L843.0,733.5L843.7,732.8L844.4,732.0L845.1,731.3L845.7,730.6L846.4,729.8L847.1,729.1L847.8,728.4L848.5,727.6L849.2,726.9L849.8,726.2L850.5,725.4L851.2,724.7L851.9,724.0L852.6,723.2L853.2,722.5L853.9,721.7L854.6,721.0L855.3,720.3L856.0,719.5L856.6,718.8L857.3,718.1L858.0,717.3L858.7,716.6L859.4,715.9L860.1,715.1L860.7,714.4L861.4,713.7L862.1,712.9L862.8,712.2L863.5,711.5L864.1,710.7L864.8,710.0L865.5,709.3L866.2,708.5L866.9,707.8L867.6,707.1L868.2,706.3L868.9,705.6L869.6,704.9L870.3,704.1L871.0,703.4L871.6,702.7L872.3,701.9L873.0,701.2L873.7,700.5L874.4,699.7L875.1,699.0L875.7,698.2L876.4,697.5L877.1,696.8L877.8,696.0L878.5,695.3L879.1,694.6L879.8,693.8L880.5,693.1L881.2,692.4L881.9,691.6L882.5,690.9L883.2,690.2L883.9,689.4L884.6,688.7L885.3,688.0L886.0,687.2L886.6,686.5L887.3,685.8L888.0,685.0L888.7,684.3L889.4,683.6L890.0,682.8L890.7,682.1L891.4,681.4L892.1,680.6L892.8,679.9L893.5,679.2L894.1,678.4L894.8,677.7L895.5,677.0L896.2,676.2L896.9,675.5L897.5,674.7L898.2,674.0L898.9,673.3L899.6,672.5L900.3,671.8L900.9,671.1L901.6,670.3L902.3,669.6L903.0,668.9L903.7,668.1L904.4,667.4L905.0,666.7L905.7,665.9L906.4,665.2L907.1,664.5L907.8,663.7L908.4,663.0L909.1,662.3L909.8,661.5L910.5,660.8L911.2,660.1L911.9,659.3L912.5,658.6L913.2,657.9L913.9,657.1L914.6,656.4L915.3,655.7L915.9,654.9L916.6,654.2L917.3,653.5L918.0,652.7L918.7,652.0L919.4,651.3L920.0,650.5L920.7,649.8L921.4,649.0L922.1,648.3L922.8,647.6L923.4,646.8L924.1,646.1L924.8,645.4L925.5,644.6L926.2,643.9L926.8,643.2L927.5,642.4L928.2,641.7L928.9,641.0L929.6,640.2L930.3,639.5L930.9,638.8L931.6,638.0L932.3,637.3L933.0,636.6L933.7,635.8L934.3,635.1L935.0,634.4L935.7,633.6L936.4,632.9L937.1,632.2L937.8,631.4L938.4,630.7L939.1,630.0L939.8,629.2L940.5,628.5L941.2,627.8L941.8,627.0L942.5,626.3L943.2,625.5L943.9,624.8L944.6,624.1L945.2,623.3L945.9,622.6L946.6,621.9L947.3,621.1L948.0,620.4L948.7,619.7L949.3,618.9L950.0,618.2L950.7,617.5L951.4,616.7L952.1,616.0L952.7,615.3L953.4,614.5L954.1,613.8L954.8,613.1L955.5,612.3L956.2,611.6L956.8,610.9L957.5,610.1L958.2,609.4L958.9,608.7L959.6,607.9L960.2,607.2L960.9,606.5L961.6,605.7L962.3,605.0L963.0,604.3L963.7,603.5L964.3,602.8L965.0,602.0L965.7,601.3L966.4,600.6L967.1,599.8L967.7,599.1L968.4,598.4L969.1,597.6L969.8,596.9L970.5,596.2L971.1,595.4L971.8,594.7L972.5,594.0L973.2,593.2L973.9,592.5L974.6,591.8L975.2,591.0L975.9,590.3L976.6,589.6L977.3,588.8L978.0,588.1L978.6,587.4L979.3,586.6L980.0,585.9L980.7,585.2L981.4,584.4L982.1,583.7L982.7,583.0L983.4,582.2" fill="none" stroke="#ff4040" stroke-width="8.2" stroke-linecap="round" stroke-linejoin="round" stroke-dasharray="21 41" stroke-dashoffset="11.4"/>
<path d="M541.6,1045.9L542.3,1045.2L543.0,1044.4L543.7,1043.7L544.3,1043.0L545.0,1042.2L545.7,1041.5L546.4,1040.7L547.0,1040.0L547.7,1039.3L548.4,1038.5L549.1,1037.8L549.8,1037.0L550.4,1036.3L551.1,1035.6L551.8,1034.8L552.5,1034.1L553.1,1033.3L553.8,1032.6L554.5,1031.9L555.2,1031.1L555.8,1030.4L556.5,1029.6L557.2,1028.9L557.9,1028.2L558.5,1027.4L559.2,1026.7L559.9,1025.9L560.6,1025.2L561.2,1024.5L561.9,1023.7L562.6,1023.0L563.3,1022.2L563.9,1021.5L564.6,1020.8L565.3,1020.0L566.0,1019.3L566.6,1018.5L567.3,1017.8L568.0,1017.1L568.7,1016.3L569.3,1015.6L570.0,1014.8L570.7,1014.1L571.4,1013.4L572.0,1012.6L572.7,1011.9L573.4,1011.1L574.1,1010.4L574.7,1009.7L575.4,1008.9L576.1,1008.2L576.8,1007.4L577.4,1006.7L578.1,1006.0L578.8,1005.2L579.5,1004.5L580.1,1003.7L580.8,1003.0L581.5,1002.3L582.2,1001.5L582.8,1000.8L583.5,1000.0L584.2,999.3L584.9,998.6L585.5,997.8L586.2,997.1L586.9,996.3L587.6,995.6L588.2,994.9L588.9,994.1L589.6,993.4L590.3,992.6L590.9,991.9L591.6,991.2L592.3,990.4L593.0,989.7L593.6,989.0L594.3,988.2L595.0,987.5L595.7,986.7L596.3,986.0L597.0,985.3L597.7,984.5L598.4,983.8L599.0,983.0L599.7,982.3L600.4,981.6L601.1,980.8L601.8,980.1L602.4,979.3L603.1,978.6L603.8,977.9L604.5,977.1L605.1,976.4L605.8,975.6L606.5,974.9L607.2,974.2L607.8,973.4L608.5,972.7L609.2,971.9L609.9,971.2L610.5,970.5L611.2,969.7L611.9,969.0L612.6,968.2L613.2,967.5L613.9,966.8L614.6,966.0L615.3,965.3L615.9,964.5L616.6,963.8L617.3,963.1L618.0,962.3L618.6,961.6L619.3,960.8L620.0,960.1L620.7,959.4L621.3,958.6L622.0,957.9L622.7,957.1L623.4,956.4L624.0,955.7L624.7,954.9L625.4,954.2L626.1,953.4L626.7,952.7L627.4,952.0L628.1,951.2L628.8,950.5L629.4,949.7L630.1,949.0L630.8,948.3L631.5,947.5L632.1,946.8L632.8,946.0L633.5,945.3L634.2,944.6L634.8,943.8L635.5,943.1L636.2,942.3L636.9,941.6L637.5,940.9L638.2,940.1L638.9,939.4L639.6,938.6L640.2,937.9L640.9,937.2L641.6,936.4L642.3,935.7L642.9,934.9L643.6,934.2L644.3,933.5L645.0,932.7L645.6,932.0L646.3,931.3L647.0,930.5L647.7,929.8L648.3,929.0L649.0,928.3L649.7,927.6L650.4,926.8L651.0,926.1L651.7,925.3L652.4,924.6L653.1,923.9L653.8,923.1L654.4,922.4L655.1,921.6L655.8,920.9L656.5,920.2L657.1,919.4L657.8,918.7L658.5,917.9L659.2,917.2L659.8,916.5L660.5,915.7L661.2,915.0L661.9,914.2L662.5,913.5L663.2,912.8L663.9,912.0L664.6,911.3L665.2,910.5L665.9,909.8L666.6,909.1L667.3,908.3L667.9,907.6L668.6,906.8L669.3,906.1L670.0,905.4L670.6,904.6L671.3,903.9L672.0,903.1L672.7,902.4L673.3,901.7L674.0,900.9L674.7,900.2L675.4,899.4L676.0,898.7L676.7,898.0L677.4,897.2L678.1,896.5L678.7,895.7L679.4,895.0L680.1,894.3L680.8,893.5L681.4,892.8L682.1,892.0L682.8,891.3L683.5,890.6L684.1,889.8L684.8,889.1L685.5,888.3L686.2,887.6L686.8,886.9L687.5,886.1L688.2,885.4L688.9,884.6L689.5,883.9L690.2,883.2L690.9,882.4L691.6,881.7L692.2,880.9L692.9,880.2L693.6,879.5L694.3,878.7L694.9,878.0L695.6,877.2L696.3,876.5L697.0,875.8L697.6,875.0L698.3,874.3L699.0,873.5L699.7,872.8L700.3,872.1L701.0,871.3L701.7,870.6L702.4,869.9L703.0,869.1L703.7,868.4L704.4,867.6L705.1,866.9L705.8,866.2L706.4,865.4L707.1,864.7L707.8,863.9L708.5,863.2L709.1,862.5L709.8,861.7L710.5,861.0L711.2,860.2L711.8,859.5L712.5,858.8L713.2,858.0L713.9,857.3L714.5,856.5L715.2,855.8L715.9,855.1L716.6,854.3L717.2,853.6L717.9,852.8L718.6,852.1L719.3,851.4L719.9,850.6L720.6,849.9L721.3,849.1L722.0,848.4L722.6,847.7L723.3,846.9L724.0,846.2L724.7,845.4L725.3,844.7L726.0,844.0L726.7,843.2L727.4,842.5L728.0,841.7L728.7,841.0L729.4,840.3L730.1,839.5L730.7,838.8L731.4,838.0L732.1,837.3L732.8,836.6L733.4,835.8L734.1,835.1L734.8,834.3L735.5,833.6L736.1,832.9L736.8,832.1L737.5,831.4L738.2,830.6L738.8,829.9L739.5,829.2L740.2,828.4L740.9,827.7L741.5,826.9L742.2,826.2L742.9,825.5L743.6,824.7L744.2,824.0L744.9,823.2L745.6,822.5L746.3,821.8L746.9,821.0L747.6,820.3L748.3,819.5L749.0,818.8L749.6,818.1L750.3,817.3L751.0,816.6L751.7,815.8L752.3,815.1L753.0,814.4L753.7,813.6L754.4,812.9L755.0,812.2L755.7,811.4L756.4,810.7L757.1,809.9L757.8,809.2L758.4,808.5L759.1,807.7L759.8,807.0L760.5,806.2L761.1,805.5L761.8,804.8L762.5,804.0L763.2,803.3L763.8,802.5L764.5,801.8L765.2,801.1L765.9,800.3L766.5,799.6L767.2,798.8L767.9,798.1L768.6,797.4L769.2,796.6L769.9,795.9L770.6,795.1L771.3,794.4L771.9,793.7L772.6,792.9L773.3,792.2L774.0,791.4L774.6,790.7L775.3,790.0L776.0,789.2L776.7,788.5L777.3,787.7L778.0,787.0L778.7,786.3L779.4,785.5L780.0,784.8L780.7,784.0L781.4,783.3L782.1,782.6L782.7,781.8L783.4,781.1L784.1,780.3L784.8,779.6L785.4,778.9L786.1,778.1L786.8,777.4L787.5,776.6L788.1,775.9L788.8,775.2L789.5,774.4L790.2,773.7L790.8,772.9L791.5,772.2L792.2,771.5L792.9,770.7L793.5,770.0L794.2,769.2L794.9,768.5L795.6,767.8L796.2,767.0L796.9,766.3L797.6,765.5L798.3,764.8L798.9,764.1L799.6,763.3L800.3,762.6L801.0,761.8L801.6,761.1L802.3,760.4L803.0,759.6L803.7,758.9L804.3,758.1L805.0,757.4L805.7,756.7L806.4,755.9L807.1,755.2L807.7,754.4L808.4,753.7L809.1,753.0L809.8,752.2L810.4,751.5L811.1,750.8L811.8,750.0L812.5,749.3L813.1,748.5L813.8,747.8L814.5,747.1L815.2,746.3L815.8,745.6L816.5,744.8L817.2,744.1L817.9,743.4L818.5,742.6L819.2,741.9L819.9,741.1L820.6,740.4L821.2,739.7L821.9,738.9L822.6,738.2L823.3,737.4L823.9,736.7L824.6,736.0L825.3,735.2L826.0,734.5L826.6,733.7L827.3,733.0L828.0,732.3L828.7,731.5L829.3,730.8L830.0,730.0L830.7,729.3L831.4,728.6L832.0,727.8L832.7,727.1L833.4,726.3L834.1,725.6L834.7,724.9L835.4,724.1L836.1,723.4L836.8,722.6L837.4,721.9L838.1,721.2L838.8,720.4L839.5,719.7L840.1,718.9L840.8,718.2L841.5,717.5L842.2,716.7L842.8,716.0L843.5,715.2L844.2,714.5L844.9,713.8L845.5,713.0L846.2,712.3L846.9,711.5L847.6,710.8L848.2,710.1L848.9,709.3L849.6,708.6L850.3,707.8L850.9,707.1L851.6,706.4L852.3,705.6L853.0,704.9L853.6,704.1L854.3,703.4L855.0,702.7L855.7,701.9L856.3,701.2L857.0,700.4L857.7,699.7L858.4,699.0L859.1,698.2L859.7,697.5L860.4,696.7L861.1,696.0L861.8,695.3L862.4,694.5L863.1,693.8L863.8,693.0L864.5,692.3L865.1,691.6L865.8,690.8L866.5,690.1L867.2,689.4L867.8,688.6L868.5,687.9L869.2,687.1L869.9,686.4L870.5,685.7L871.2,684.9L871.9,684.2L872.6,683.4L873.2,682.7L873.9,682.0L874.6,681.2L875.3,680.5L875.9,679.7L876.6,679.0L877.3,678.3L878.0,677.5L878.6,676.8L879.3,676.0L880.0,675.3L880.7,674.6L881.3,673.8L882.0,673.1L882.7,672.3L883.4,671.6L884.0,670.9L884.7,670.1L885.4,669.4L886.1,668.6L886.7,667.9L887.4,667.2L888.1,666.4L888.8,665.7L889.4,664.9L890.1,664.2L890.8,663.5L891.5,662.7L892.1,662.0L892.8,661.2L893.5,660.5L894.2,659.8L894.8,659.0L895.5,658.3L896.2,657.5L896.9,656.8L897.5,656.1L898.2,655.3L898.9,654.6L899.6,653.8L900.2,653.1L900.9,652.4L901.6,651.6L902.3,650.9L902.9,650.1L903.6,649.4L904.3,648.7L905.0,647.9L905.6,647.2L906.3,646.4L907.0,645.7L907.7,645.0L908.3,644.2L909.0,643.5L909.7,642.7L910.4,642.0L911.1,641.3L911.7,640.5L912.4,639.8L913.1,639.0L913.8,638.3L914.4,637.6L915.1,636.8L915.8,636.1L916.5,635.3L917.1,634.6L917.8,633.9L918.5,633.1L919.2,632.4L919.8,631.7L920.5,630.9L921.2,630.2L921.9,629.4L922.5,628.7L923.2,628.0L923.9,627.2L924.6,626.5L925.2,625.7L925.9,625.0L926.6,624.3L927.3,623.5L927.9,622.8L928.6,622.0L929.3,621.3L930.0,620.6L930.6,619.8L931.3,619.1L932.0,618.3L932.7,617.6L933.3,616.9L934.0,616.1L934.7,615.4L935.4,614.6L936.0,613.9L936.7,613.2L937.4,612.4L938.1,611.7L938.7,610.9L939.4,610.2L940.1,609.5L940.8,608.7L941.4,608.0L942.1,607.2L942.8,606.5L943.5,605.8L944.1,605.0L944.8,604.3L945.5,603.5L946.2,602.8L946.8,602.1L947.5,601.3L948.2,600.6L948.9,599.8L949.5,599.1L950.2,598.4L950.9,597.6L951.6,596.9L952.2,596.1L952.9,595.4L953.6,594.7L954.3,593.9L954.9,593.2L955.6,592.4L956.3,591.7L957.0,591.0L957.6,590.2L958.3,589.5L959.0,588.7L959.7,588.0L960.3,587.3L961.0,586.5L961.7,585.8L962.4,585.0L963.1,584.3L963.7,583.6L964.4,582.8L965.1,582.1L965.8,581.3L966.4,580.6L967.1,579.9L967.8,579.1L968.5,578.4" fill="none" stroke="#006fe6" stroke-width="8.6" stroke-linecap="round" stroke-linejoin="round" stroke-dasharray="0.3 39.1" stroke-dashoffset="18.5"/>
<path d="M532.1,1044.1L532.7,1043.3L533.4,1042.6L534.1,1041.9L534.7,1041.1L535.4,1040.4L536.1,1039.6L536.7,1038.9L537.4,1038.1L538.1,1037.4L538.7,1036.6L539.4,1035.9L540.1,1035.1L540.7,1034.4L541.4,1033.6L542.1,1032.9L542.7,1032.1L543.4,1031.4L544.1,1030.6L544.7,1029.9L545.4,1029.1L546.1,1028.4L546.7,1027.6L547.4,1026.9L548.1,1026.1L548.7,1025.4L549.4,1024.6L550.1,1023.9L550.7,1023.2L551.4,1022.4L552.1,1021.7L552.7,1020.9L553.4,1020.2L554.1,1019.4L554.7,1018.7L555.4,1017.9L556.1,1017.2L556.7,1016.4L557.4,1015.7L558.1,1014.9L558.7,1014.2L559.4,1013.4L560.1,1012.7L560.7,1011.9L561.4,1011.2L562.1,1010.4L562.7,1009.7L563.4,1008.9L564.1,1008.2L564.7,1007.4L565.4,1006.7L566.1,1006.0L566.7,1005.2L567.4,1004.5L568.1,1003.7L568.7,1003.0L569.4,1002.2L570.1,1001.5L570.7,1000.7L571.4,1000.0L572.1,999.2L572.7,998.5L573.4,997.7L574.1,997.0L574.7,996.2L575.4,995.5L576.1,994.7L576.7,994.0L577.4,993.2L578.1,992.5L578.7,991.7L579.4,991.0L580.1,990.2L580.7,989.5L581.4,988.8L582.1,988.0L582.7,987.3L583.4,986.5L584.1,985.8L584.7,985.0L585.4,984.3L586.1,983.5L586.7,982.8L587.4,982.0L588.1,981.3L588.7,980.5L589.4,979.8L590.1,979.0L590.7,978.3L591.4,977.5L592.1,976.8L592.7,976.0L593.4,975.3L594.1,974.5L594.7,973.8L595.4,973.0L596.1,972.3L596.7,971.5L597.4,970.8L598.1,970.1L598.7,969.3L599.4,968.6L600.1,967.8L600.7,967.1L601.4,966.3L602.1,965.6L602.7,964.8L603.4,964.1L604.1,963.3L604.7,962.6L605.4,961.8L606.1,961.1L606.7,960.3L607.4,959.6L608.1,958.8L608.7,958.1L609.4,957.3L610.1,956.6L610.7,955.8L611.4,955.1L612.1,954.3L612.7,953.6L613.4,952.9L614.1,952.1L614.7,951.4L615.4,950.6L616.1,949.9L616.7,949.1L617.4,948.4L618.1,947.6L618.7,946.9L619.4,946.1L620.1,945.4L620.7,944.6L621.4,943.9L622.1,943.1L622.7,942.4L623.4,941.6L624.1,940.9L624.7,940.1L625.4,939.4L626.1,938.6L626.7,937.9L627.4,937.1L628.1,936.4L628.7,935.7L629.4,934.9L630.1,934.2L630.7,933.4L631.4,932.7L632.1,931.9L632.7,931.2L633.4,930.4L634.1,929.7L634.7,928.9L635.4,928.2L636.1,927.4L636.7,926.7L637.4,925.9L638.0,925.2L638.7,924.4L639.4,923.7L640.0,922.9L640.7,922.2L641.4,921.4L642.0,920.7L642.7,919.9L643.4,919.2L644.0,918.5L644.7,917.7L645.4,917.0L646.0,916.2L646.7,915.5L647.4,914.7L648.0,914.0L648.7,913.2L649.4,912.5L650.0,911.7L650.7,911.0L651.4,910.2L652.0,909.5L652.7,908.7L653.4,908.0L654.0,907.2L654.7,906.5L655.4,905.7L656.0,905.0L656.7,904.2L657.4,903.5L658.0,902.7L658.7,902.0L659.4,901.2L660.0,900.5L660.7,899.8L661.4,899.0L662.0,898.3L662.7,897.5L663.4,896.8L664.0,896.0L664.7,895.3L665.4,894.5L666.0,893.8L666.7,893.0L667.4,892.3L668.0,891.5L668.7,890.8L669.4,890.0L670.0,889.3L670.7,888.5L671.4,887.8L672.0,887.0L672.7,886.3L673.4,885.5L674.0,884.8L674.7,884.0L675.4,883.3L676.0,882.6L676.7,881.8L677.4,881.1L678.0,880.3L678.7,879.6L679.4,878.8L680.0,878.1L680.7,877.3L681.4,876.6L682.0,875.8L682.7,875.1L683.4,874.3L684.0,873.6L684.7,872.8L685.4,872.1L686.0,871.3L686.7,870.6L687.4,869.8L688.0,869.1L688.7,868.3L689.4,867.6L690.0,866.8L690.7,866.1L691.4,865.4L692.0,864.6L692.7,863.9L693.4,863.1L694.0,862.4L694.7,861.6L695.4,860.9L696.0,860.1L696.7,859.4L697.4,858.6L698.0,857.9L698.7,857.1L699.4,856.4L700.0,855.6L700.7,854.9L701.4,854.1L702.0,853.4L702.7,852.6L703.4,851.9L704.0,851.1L704.7,850.4L705.4,849.6L706.0,848.9L706.7,848.1L707.4,847.4L708.0,846.7L708.7,845.9L709.4,845.2L710.0,844.4L710.7,843.7L711.4,842.9L712.0,842.2L712.7,841.4L713.4,840.7L714.0,839.9L714.7,839.2L715.4,838.4L716.0,837.7L716.7,836.9L717.4,836.2L718.0,835.4L718.7,834.7L719.4,833.9L720.0,833.2L720.7,832.4L721.4,831.7L722.0,830.9L722.7,830.2L723.4,829.5L724.0,828.7L724.7,828.0L725.4,827.2L726.0,826.5L726.7,825.7L727.4,825.0L728.0,824.2L728.7,823.5L729.4,822.7L730.0,822.0L730.7,821.2L731.4,820.5L732.0,819.7L732.7,819.0L733.4,818.2L734.0,817.5L734.7,816.7L735.4,816.0L736.0,815.2L736.7,814.5L737.4,813.7L738.0,813.0L738.7,812.3L739.4,811.5L740.0,810.8L740.7,810.0L741.4,809.3L742.0,808.5L742.7,807.8L743.4,807.0L744.0,806.3L744.7,805.5L745.4,804.8L746.0,804.0L746.7,803.3L747.3,802.5L748.0,801.8L748.7,801.0L749.3,800.3L750.0,799.5L750.7,798.8L751.3,798.0L752.0,797.3L752.7,796.5L753.3,795.8L754.0,795.0L754.7,794.3L755.3,793.6L756.0,792.8L756.7,792.1L757.3,791.3L758.0,790.6L758.7,789.8L759.3,789.1L760.0,788.3L760.7,787.6L761.3,786.8L762.0,786.1L762.7,785.3L763.3,784.6L764.0,783.8L764.7,783.1L765.3,782.3L766.0,781.6L766.7,780.8L767.3,780.1L768.0,779.3L768.7,778.6L769.3,777.8L770.0,777.1L770.7,776.4L771.3,775.6L772.0,774.9L772.7,774.1L773.3,773.4L774.0,772.6L774.7,771.9L775.3,771.1L776.0,770.4L776.7,769.6L777.3,768.9L778.0,768.1L778.7,767.4L779.3,766.6L780.0,765.9L780.7,765.1L781.3,764.4L782.0,763.6L782.7,762.9L783.3,762.1L784.0,761.4L784.7,760.6L785.3,759.9L786.0,759.2L786.7,758.4L787.3,757.7L788.0,756.9L788.7,756.2L789.3,755.4L790.0,754.7L790.7,753.9L791.3,753.2L792.0,752.4L792.7,751.7L793.3,750.9L794.0,750.2L794.7,749.4L795.3,748.7L796.0,747.9L796.7,747.2L797.3,746.4L798.0,745.7L798.7,744.9L799.3,744.2L800.0,743.4L800.7,742.7L801.3,741.9L802.0,741.2L802.7,740.5L803.3,739.7L804.0,739.0L804.7,738.2L805.3,737.5L806.0,736.7L806.7,736.0L807.3,735.2L808.0,734.5L808.7,733.7L809.3,733.0L810.0,732.2L810.7,731.5L811.3,730.7L812.0,730.0L812.7,729.2L813.3,728.5L814.0,727.7L814.7,727.0L815.3,726.2L816.0,725.5L816.7,724.7L817.3,724.0L818.0,723.3L818.7,722.5L819.3,721.8L820.0,721.0L820.7,720.3L821.3,719.5L822.0,718.8L822.7,718.0L823.3,717.3L824.0,716.5L824.7,715.8L825.3,715.0L826.0,714.3L826.7,713.5L827.3,712.8L828.0,712.0L828.7,711.3L829.3,710.5L830.0,709.8L830.7,709.0L831.3,708.3L832.0,707.5L832.7,706.8L833.3,706.1L834.0,705.3L834.7,704.6L835.3,703.8L836.0,703.1L836.7,702.3L837.3,701.6L838.0,700.8L838.7,700.1L839.3,699.3L840.0,698.6L840.7,697.8L841.3,697.1L842.0,696.3L842.7,695.6L843.3,694.8L844.0,694.1L844.7,693.3L845.3,692.6L846.0,691.8L846.7,691.1L847.3,690.3L848.0,689.6L848.7,688.8L849.3,688.1L850.0,687.4L850.7,686.6L851.3,685.9L852.0,685.1L852.7,684.4L853.3,683.6L854.0,682.9L854.7,682.1L855.3,681.4L856.0,680.6L856.6,679.9L857.3,679.1L858.0,678.4L858.6,677.6L859.3,676.9L860.0,676.1L860.6,675.4L861.3,674.6L862.0,673.9L862.6,673.1L863.3,672.4L864.0,671.6L864.6,670.9L865.3,670.2L866.0,669.4L866.6,668.7L867.3,667.9L868.0,667.2L868.6,666.4L869.3,665.7L870.0,664.9L870.6,664.2L871.3,663.4L872.0,662.7L872.6,661.9L873.3,661.2L874.0,660.4L874.6,659.7L875.3,658.9L876.0,658.2L876.6,657.4L877.3,656.7L878.0,655.9L878.6,655.2L879.3,654.4L880.0,653.7L880.6,653.0L881.3,652.2L882.0,651.5L882.6,650.7L883.3,650.0L884.0,649.2L884.6,648.5L885.3,647.7L886.0,647.0L886.6,646.2L887.3,645.5L888.0,644.7L888.6,644.0L889.3,643.2L890.0,642.5L890.6,641.7L891.3,641.0L892.0,640.2L892.6,639.5L893.3,638.7L894.0,638.0L894.6,637.2L895.3,636.5L896.0,635.8L896.6,635.0L897.3,634.3L898.0,633.5L898.6,632.8L899.3,632.0L900.0,631.3L900.6,630.5L901.3,629.8L902.0,629.0L902.6,628.3L903.3,627.5L904.0,626.8L904.6,626.0L905.3,625.3L906.0,624.5L906.6,623.8L907.3,623.0L908.0,622.3L908.6,621.5L909.3,620.8L910.0,620.0L910.6,619.3L911.3,618.5L912.0,617.8L912.6,617.1L913.3,616.3L914.0,615.6L914.6,614.8L915.3,614.1L916.0,613.3L916.6,612.6L917.3,611.8L918.0,611.1L918.6,610.3L919.3,609.6L920.0,608.8L920.6,608.1L921.3,607.3L922.0,606.6L922.6,605.8L923.3,605.1L924.0,604.3L924.6,603.6L925.3,602.8L926.0,602.1L926.6,601.3L927.3,600.6L928.0,599.9L928.6,599.1L929.3,598.4L930.0,597.6L930.6,596.9L931.3,596.1L932.0,595.4L932.6,594.6L933.3,593.9L934.0,593.1L934.6,592.4L935.3,591.6L936.0,590.9L936.6,590.1L937.3,589.4L938.0,588.6L938.6,587.9L939.3,587.1L940.0,586.4L940.6,585.6L941.3,584.9L942.0,584.1L942.6,583.4L943.3,582.7L944.0,581.9L944.6,581.2L945.3,580.4L946.0,579.7L946.6,578.9L947.3,578.2L948.0,577.4L948.6,576.7L949.3,575.9L950.0,575.2L950.6,574.4L951.3,573.7L952.0,572.9L952.6,572.2L953.3,571.4L954.0,570.7L954.6,569.9L955.3,569.2L956.0,568.4L956.6,567.7L957.3,566.9L958.0,566.2L958.6,565.4L959.3,564.7L960.0,564.0L960.6,563.2" fill="none" stroke="#00b068" stroke-width="8.2" stroke-linecap="round" stroke-linejoin="round" stroke-dasharray="20 27 0.3 35.2" stroke-dashoffset="-32.7"/>
<path d="M531.1,1042.1L531.7,1041.3L532.4,1040.6L533.1,1039.9L533.7,1039.1L534.4,1038.4L535.1,1037.6L535.7,1036.9L536.4,1036.1L537.1,1035.4L537.7,1034.6L538.4,1033.9L539.1,1033.1L539.7,1032.4L540.4,1031.6L541.1,1030.9L541.7,1030.1L542.4,1029.4L543.1,1028.6L543.7,1027.9L544.4,1027.1L545.1,1026.4L545.7,1025.6L546.4,1024.9L547.1,1024.1L547.7,1023.4L548.4,1022.6L549.1,1021.9L549.7,1021.2L550.4,1020.4L551.1,1019.7L551.7,1018.9L552.4,1018.2L553.1,1017.4L553.7,1016.7L554.4,1015.9L555.1,1015.2L555.7,1014.4L556.4,1013.7L557.1,1012.9L557.7,1012.2L558.4,1011.4L559.1,1010.7L559.7,1009.9L560.4,1009.2L561.1,1008.4L561.7,1007.7L562.4,1006.9L563.1,1006.2L563.7,1005.4L564.4,1004.7L565.1,1004.0L565.7,1003.2L566.4,1002.5L567.1,1001.7L567.7,1001.0L568.4,1000.2L569.1,999.5L569.7,998.7L570.4,998.0L571.1,997.2L571.7,996.5L572.4,995.7L573.1,995.0L573.7,994.2L574.4,993.5L575.1,992.7L575.7,992.0L576.4,991.2L577.1,990.5L577.7,989.7L578.4,989.0L579.1,988.2L579.7,987.5L580.4,986.8L581.1,986.0L581.7,985.3L582.4,984.5L583.1,983.8L583.7,983.0L584.4,982.3L585.1,981.5L585.7,980.8L586.4,980.0L587.1,979.3L587.7,978.5L588.4,977.8L589.1,977.0L589.7,976.3L590.4,975.5L591.1,974.8L591.7,974.0L592.4,973.3L593.1,972.5L593.7,971.8L594.4,971.0L595.1,970.3L595.7,969.5L596.4,968.8L597.1,968.1L597.7,967.3L598.4,966.6L599.1,965.8L599.7,965.1L600.4,964.3L601.1,963.6L601.7,962.8L602.4,962.1L603.1,961.3L603.7,960.6L604.4,959.8L605.1,959.1L605.7,958.3L606.4,957.6L607.1,956.8L607.7,956.1L608.4,955.3L609.1,954.6L609.7,953.8L610.4,953.1L611.1,952.3L611.7,951.6L612.4,950.9L613.1,950.1L613.7,949.4L614.4,948.6L615.1,947.9L615.7,947.1L616.4,946.4L617.1,945.6L617.7,944.9L618.4,944.1L619.1,943.4L619.7,942.6L620.4,941.9L621.1,941.1L621.7,940.4L622.4,939.6L623.1,938.9L623.7,938.1L624.4,937.4L625.1,936.6L625.7,935.9L626.4,935.1L627.1,934.4L627.7,933.7L628.4,932.9L629.1,932.2L629.7,931.4L630.4,930.7L631.1,929.9L631.7,929.2L632.4,928.4L633.1,927.7L633.7,926.9L634.4,926.2L635.1,925.4L635.7,924.7L636.4,923.9L637.0,923.2L637.7,922.4L638.4,921.7L639.0,920.9L639.7,920.2L640.4,919.4L641.0,918.7L641.7,917.9L642.4,917.2L643.0,916.5L643.7,915.7L644.4,915.0L645.0,914.2L645.7,913.5L646.4,912.7L647.0,912.0L647.7,911.2L648.4,910.5L649.0,909.7L649.7,909.0L650.4,908.2L651.0,907.5L651.7,906.7L652.4,906.0L653.0,905.2L653.7,904.5L654.4,903.7L655.0,903.0L655.7,902.2L656.4,901.5L657.0,900.7L657.7,900.0L658.4,899.2L659.0,898.5L659.7,897.8L660.4,897.0L661.0,896.3L661.7,895.5L662.4,894.8L663.0,894.0L663.7,893.3L664.4,892.5L665.0,891.8L665.7,891.0L666.4,890.3L667.0,889.5L667.7,888.8L668.4,888.0L669.0,887.3L669.7,886.5L670.4,885.8L671.0,885.0L671.7,884.3L672.4,883.5L673.0,882.8L673.7,882.0L674.4,881.3L675.0,880.6L675.7,879.8L676.4,879.1L677.0,878.3L677.7,877.6L678.4,876.8L679.0,876.1L679.7,875.3L680.4,874.6L681.0,873.8L681.7,873.1L682.4,872.3L683.0,871.6L683.7,870.8L684.4,870.1L685.0,869.3L685.7,868.6L686.4,867.8L687.0,867.1L687.7,866.3L688.4,865.6L689.0,864.8L689.7,864.1L690.4,863.4L691.0,862.6L691.7,861.9L692.4,861.1L693.0,860.4L693.7,859.6L694.4,858.9L695.0,858.1L695.7,857.4L696.4,856.6L697.0,855.9L697.7,855.1L698.4,854.4L699.0,853.6L699.7,852.9L700.4,852.1L701.0,851.4L701.7,850.6L702.4,849.9L703.0,849.1L703.7,848.4L704.4,847.6L705.0,846.9L705.7,846.1L706.4,845.4L707.0,844.7L707.7,843.9L708.4,843.2L709.0,842.4L709.7,841.7L710.4,840.9L711.0,840.2L711.7,839.4L712.4,838.7L713.0,837.9L713.7,837.2L714.4,836.4L715.0,835.7L715.7,834.9L716.4,834.2L717.0,833.4L717.7,832.7L718.4,831.9L719.0,831.2L719.7,830.4L720.4,829.7L721.0,828.9L721.7,828.2L722.4,827.5L723.0,826.7L723.7,826.0L724.4,825.2L725.0,824.5L725.7,823.7L726.4,823.0L727.0,822.2L727.7,821.5L728.4,820.7L729.0,820.0L729.7,819.2L730.4,818.5L731.0,817.7L731.7,817.0L732.4,816.2L733.0,815.5L733.7,814.7L734.4,814.0L735.0,813.2L735.7,812.5L736.4,811.7L737.0,811.0L737.7,810.3L738.4,809.5L739.0,808.8L739.7,808.0L740.4,807.3L741.0,806.5L741.7,805.8L742.4,805.0L743.0,804.3L743.7,803.5L744.4,802.8L745.0,802.0L745.7,801.3L746.3,800.5L747.0,799.8L747.7,799.0L748.3,798.3L749.0,797.5L749.7,796.8L750.3,796.0L751.0,795.3L751.7,794.5L752.3,793.8L753.0,793.0L753.7,792.3L754.3,791.6L755.0,790.8L755.7,790.1L756.3,789.3L757.0,788.6L757.7,787.8L758.3,787.1L759.0,786.3L759.7,785.6L760.3,784.8L761.0,784.1L761.7,783.3L762.3,782.6L763.0,781.8L763.7,781.1L764.3,780.3L765.0,779.6L765.7,778.8L766.3,778.1L767.0,777.3L767.7,776.6L768.3,775.8L769.0,775.1L769.7,774.4L770.3,773.6L771.0,772.9L771.7,772.1L772.3,771.4L773.0,770.6L773.7,769.9L774.3,769.1L775.0,768.4L775.7,767.6L776.3,766.9L777.0,766.1L777.7,765.4L778.3,764.6L779.0,763.9L779.7,763.1L780.3,762.4L781.0,761.6L781.7,760.9L782.3,760.1L783.0,759.4L783.7,758.6L784.3,757.9L785.0,757.2L785.7,756.4L786.3,755.7L787.0,754.9L787.7,754.2L788.3,753.4L789.0,752.7L789.7,751.9L790.3,751.2L791.0,750.4L791.7,749.7L792.3,748.9L793.0,748.2L793.7,747.4L794.3,746.7L795.0,745.9L795.7,745.2L796.3,744.4L797.0,743.7L797.7,742.9L798.3,742.2L799.0,741.4L799.7,740.7L800.3,739.9L801.0,739.2L801.7,738.5L802.3,737.7L803.0,737.0L803.7,736.2L804.3,735.5L805.0,734.7L805.7,734.0L806.3,733.2L807.0,732.5L807.7,731.7L808.3,731.0L809.0,730.2L809.7,729.5L810.3,728.7L811.0,728.0L811.7,727.2L812.3,726.5L813.0,725.7L813.7,725.0L814.3,724.2L815.0,723.5L815.7,722.7L816.3,722.0L817.0,721.3L817.7,720.5L818.3,719.8L819.0,719.0L819.7,718.3L820.3,717.5L821.0,716.8L821.7,716.0L822.3,715.3L823.0,714.5L823.7,713.8L824.3,713.0L825.0,712.3L825.7,711.5L826.3,710.8L827.0,710.0L827.7,709.3L828.3,708.5L829.0,707.8L829.7,707.0L830.3,706.3L831.0,705.5L831.7,704.8L832.3,704.1L833.0,703.3L833.7,702.6L834.3,701.8L835.0,701.1L835.7,700.3L836.3,699.6L837.0,698.8L837.7,698.1L838.3,697.3L839.0,696.6L839.7,695.8L840.3,695.1L841.0,694.3L841.7,693.6L842.3,692.8L843.0,692.1L843.7,691.3L844.3,690.6L845.0,689.8L845.7,689.1L846.3,688.3L847.0,687.6L847.7,686.8L848.3,686.1L849.0,685.4L849.7,684.6L850.3,683.9L851.0,683.1L851.7,682.4L852.3,681.6L853.0,680.9L853.7,680.1L854.3,679.4L855.0,678.6L855.6,677.9L856.3,677.1L857.0,676.4L857.6,675.6L858.3,674.9L859.0,674.1L859.6,673.4L860.3,672.6L861.0,671.9L861.6,671.1L862.3,670.4L863.0,669.6L863.6,668.9L864.3,668.2L865.0,667.4L865.6,666.7L866.3,665.9L867.0,665.2L867.6,664.4L868.3,663.7L869.0,662.9L869.6,662.2L870.3,661.4L871.0,660.7L871.6,659.9L872.3,659.2L873.0,658.4L873.6,657.7L874.3,656.9L875.0,656.2L875.6,655.4L876.3,654.7L877.0,653.9L877.6,653.2L878.3,652.4L879.0,651.7L879.6,651.0L880.3,650.2L881.0,649.5L881.6,648.7L882.3,648.0L883.0,647.2L883.6,646.5L884.3,645.7L885.0,645.0L885.6,644.2L886.3,643.5L887.0,642.7L887.6,642.0L888.3,641.2L889.0,640.5L889.6,639.7L890.3,639.0L891.0,638.2L891.6,637.5L892.3,636.7L893.0,636.0L893.6,635.2L894.3,634.5L895.0,633.8L895.6,633.0L896.3,632.3L897.0,631.5L897.6,630.8L898.3,630.0L899.0,629.3L899.6,628.5L900.3,627.8L901.0,627.0L901.6,626.3L902.3,625.5L903.0,624.8L903.6,624.0L904.3,623.3L905.0,622.5L905.6,621.8L906.3,621.0L907.0,620.3L907.6,619.5L908.3,618.8L909.0,618.0L909.6,617.3L910.3,616.5L911.0,615.8L911.6,615.1L912.3,614.3L913.0,613.6L913.6,612.8L914.3,612.1L915.0,611.3L915.6,610.6L916.3,609.8L917.0,609.1L917.6,608.3L918.3,607.6L919.0,606.8L919.6,606.1L920.3,605.3L921.0,604.6L921.6,603.8L922.3,603.1L923.0,602.3L923.6,601.6L924.3,600.8L925.0,600.1L925.6,599.3L926.3,598.6L927.0,597.9L927.6,597.1L928.3,596.4L929.0,595.6L929.6,594.9L930.3,594.1L931.0,593.4L931.6,592.6L932.3,591.9L933.0,591.1L933.6,590.4L934.3,589.6L935.0,588.9L935.6,588.1L936.3,587.4L937.0,586.6L937.6,585.9L938.3,585.1L939.0,584.4L939.6,583.6L940.3,582.9L941.0,582.1L941.6,581.4L942.3,580.7L943.0,579.9L943.6,579.2L944.3,578.4L945.0,577.7L945.6,576.9L946.3,576.2L947.0,575.4L947.6,574.7L948.3,573.9L949.0,573.2L949.6,572.4L950.3,571.7L951.0,570.9L951.6,570.2L952.3,569.4L953.0,568.7L953.6,567.9L954.3,567.2L955.0,566.4L955.6,565.7L956.3,564.9L957.0,564.2L957.6,563.4L958.3,562.7L959.0,562.0L959.6,561.2" fill="none" stroke="#c47be2" stroke-width="8.2" stroke-linecap="round" stroke-linejoin="round" stroke-dasharray="12 27 0.3 29.5 0.3 29.6" stroke-dashoffset="-36.8"/>
<path d="M532.1,1042.1L532.7,1041.3L533.4,1040.6L534.1,1039.9L534.7,1039.1L535.4,1038.4L536.1,1037.6L536.7,1036.9L537.4,1036.1L538.1,1035.4L538.7,1034.6L539.4,1033.9L540.1,1033.1L540.7,1032.4L541.4,1031.6L542.1,1030.9L542.7,1030.1L543.4,1029.4L544.1,1028.6L544.7,1027.9L545.4,1027.1L546.1,1026.4L546.7,1025.6L547.4,1024.9L548.1,1024.1L548.7,1023.4L549.4,1022.6L550.1,1021.9L550.7,1021.2L551.4,1020.4L552.1,1019.7L552.7,1018.9L553.4,1018.2L554.1,1017.4L554.7,1016.7L555.4,1015.9L556.1,1015.2L556.7,1014.4L557.4,1013.7L558.1,1012.9L558.7,1012.2L559.4,1011.4L560.1,1010.7L560.7,1009.9L561.4,1009.2L562.1,1008.4L562.7,1007.7L563.4,1006.9L564.1,1006.2L564.7,1005.4L565.4,1004.7L566.1,1004.0L566.7,1003.2L567.4,1002.5L568.1,1001.7L568.7,1001.0L569.4,1000.2L570.1,999.5L570.7,998.7L571.4,998.0L572.1,997.2L572.7,996.5L573.4,995.7L574.1,995.0L574.7,994.2L575.4,993.5L576.1,992.7L576.7,992.0L577.4,991.2L578.1,990.5L578.7,989.7L579.4,989.0L580.1,988.2L580.7,987.5L581.4,986.8L582.1,986.0L582.7,985.3L583.4,984.5L584.1,983.8L584.7,983.0L585.4,982.3L586.1,981.5L586.7,980.8L587.4,980.0L588.1,979.3L588.7,978.5L589.4,977.8L590.1,977.0L590.7,976.3L591.4,975.5L592.1,974.8L592.7,974.0L593.4,973.3L594.1,972.5L594.7,971.8L595.4,971.0L596.1,970.3L596.7,969.5L597.4,968.8L598.1,968.1L598.7,967.3L599.4,966.6L600.1,965.8L600.7,965.1L601.4,964.3L602.1,963.6L602.7,962.8L603.4,962.1L604.1,961.3L604.7,960.6L605.4,959.8L606.1,959.1L606.7,958.3L607.4,957.6L608.1,956.8L608.7,956.1L609.4,955.3L610.1,954.6L610.7,953.8L611.4,953.1L612.1,952.3L612.7,951.6L613.4,950.9L614.1,950.1L614.7,949.4L615.4,948.6L616.1,947.9L616.7,947.1L617.4,946.4L618.1,945.6L618.7,944.9L619.4,944.1L620.1,943.4L620.7,942.6L621.4,941.9L622.1,941.1L622.7,940.4L623.4,939.6L624.1,938.9L624.7,938.1L625.4,937.4L626.1,936.6L626.7,935.9L627.4,935.1L628.1,934.4L628.7,933.7L629.4,932.9L630.1,932.2L630.7,931.4L631.4,930.7L632.1,929.9L632.7,929.2L633.4,928.4L634.1,927.7L634.7,926.9L635.4,926.2L636.1,925.4L636.7,924.7L637.4,923.9L638.0,923.2L638.7,922.4L639.4,921.7L640.0,920.9L640.7,920.2L641.4,919.4L642.0,918.7L642.7,917.9L643.4,917.2L644.0,916.5L644.7,915.7L645.4,915.0L646.0,914.2L646.7,913.5L647.4,912.7L648.0,912.0L648.7,911.2L649.4,910.5L650.0,909.7L650.7,909.0L651.4,908.2L652.0,907.5L652.7,906.7L653.4,906.0L654.0,905.2L654.7,904.5L655.4,903.7L656.0,903.0L656.7,902.2L657.4,901.5L658.0,900.7L658.7,900.0L659.4,899.2L660.0,898.5L660.7,897.8L661.4,897.0L662.0,896.3L662.7,895.5L663.4,894.8L664.0,894.0L664.7,893.3L665.4,892.5L666.0,891.8L666.7,891.0L667.4,890.3L668.0,889.5L668.7,888.8L669.4,888.0L670.0,887.3L670.7,886.5L671.4,885.8L672.0,885.0L672.7,884.3L673.4,883.5L674.0,882.8L674.7,882.0L675.4,881.3L676.0,880.6L676.7,879.8L677.4,879.1L678.0,878.3L678.7,877.6L679.4,876.8L680.0,876.1L680.7,875.3L681.4,874.6L682.0,873.8L682.7,873.1L683.4,872.3L684.0,871.6L684.7,870.8L685.4,870.1L686.0,869.3L686.7,868.6L687.4,867.8L688.0,867.1L688.7,866.3L689.4,865.6L690.0,864.8L690.7,864.1L691.4,863.4L692.0,862.6L692.7,861.9L693.4,861.1L694.0,860.4L694.7,859.6L695.4,858.9L696.0,858.1L696.7,857.4L697.4,856.6L698.0,855.9L698.7,855.1L699.4,854.4L700.0,853.6L700.7,852.9L701.4,852.1L702.0,851.4L702.7,850.6L703.4,849.9L704.0,849.1L704.7,848.4L705.4,847.6L706.0,846.9L706.7,846.1L707.4,845.4L708.0,844.7L708.7,843.9L709.4,843.2L710.0,842.4L710.7,841.7L711.4,840.9L712.0,840.2L712.7,839.4L713.4,838.7L714.0,837.9L714.7,837.2L715.4,836.4L716.0,835.7L716.7,834.9L717.4,834.2L718.0,833.4L718.7,832.7L719.4,831.9L720.0,831.2L720.7,830.4L721.4,829.7L722.0,828.9L722.7,828.2L723.4,827.5L724.0,826.7L724.7,826.0L725.4,825.2L726.0,824.5L726.7,823.7L727.4,823.0L728.0,822.2L728.7,821.5L729.4,820.7L730.0,820.0L730.7,819.2L731.4,818.5L732.0,817.7L732.7,817.0L733.4,816.2L734.0,815.5L734.7,814.7L735.4,814.0L736.0,813.2L736.7,812.5L737.4,811.7L738.0,811.0L738.7,810.3L739.4,809.5L740.0,808.8L740.7,808.0L741.4,807.3L742.0,806.5L742.7,805.8L743.4,805.0L744.0,804.3L744.7,803.5L745.4,802.8L746.0,802.0L746.7,801.3L747.3,800.5L748.0,799.8L748.7,799.0L749.3,798.3L750.0,797.5L750.7,796.8L751.3,796.0L752.0,795.3L752.7,794.5L753.3,793.8L754.0,793.0L754.7,792.3L755.3,791.6L756.0,790.8L756.7,790.1L757.3,789.3L758.0,788.6L758.7,787.8L759.3,787.1L760.0,786.3L760.7,785.6L761.3,784.8L762.0,784.1L762.7,783.3L763.3,782.6L764.0,781.8L764.7,781.1L765.3,780.3L766.0,779.6L766.7,778.8L767.3,778.1L768.0,777.3L768.7,776.6L769.3,775.8L770.0,775.1L770.7,774.4L771.3,773.6L772.0,772.9L772.7,772.1L773.3,771.4L774.0,770.6L774.7,769.9L775.3,769.1L776.0,768.4L776.7,767.6L777.3,766.9L778.0,766.1L778.7,765.4L779.3,764.6L780.0,763.9L780.7,763.1L781.3,762.4L782.0,761.6L782.7,760.9L783.3,760.1L784.0,759.4L784.7,758.6L785.3,757.9L786.0,757.2L786.7,756.4L787.3,755.7L788.0,754.9L788.7,754.2L789.3,753.4L790.0,752.7L790.7,751.9L791.3,751.2L792.0,750.4L792.7,749.7L793.3,748.9L794.0,748.2L794.7,747.4L795.3,746.7L796.0,745.9L796.7,745.2L797.3,744.4L798.0,743.7L798.7,742.9L799.3,742.2L800.0,741.4L800.7,740.7L801.3,739.9L802.0,739.2L802.7,738.5L803.3,737.7L804.0,737.0L804.7,736.2L805.3,735.5L806.0,734.7L806.7,734.0L807.3,733.2L808.0,732.5L808.7,731.7L809.3,731.0L810.0,730.2L810.7,729.5L811.3,728.7L812.0,728.0L812.7,727.2L813.3,726.5L814.0,725.7L814.7,725.0L815.3,724.2L816.0,723.5L816.7,722.7L817.3,722.0L818.0,721.3L818.7,720.5L819.3,719.8L820.0,719.0L820.7,718.3L821.3,717.5L822.0,716.8L822.7,716.0L823.3,715.3L824.0,714.5L824.7,713.8L825.3,713.0L826.0,712.3L826.7,711.5L827.3,710.8L828.0,710.0L828.7,709.3L829.3,708.5L830.0,707.8L830.7,707.0L831.3,706.3L832.0,705.5L832.7,704.8L833.3,704.1L834.0,703.3L834.7,702.6L835.3,701.8L836.0,701.1L836.7,700.3L837.3,699.6L838.0,698.8L838.7,698.1L839.3,697.3L840.0,696.6L840.7,695.8L841.3,695.1L842.0,694.3L842.7,693.6L843.3,692.8L844.0,692.1L844.7,691.3L845.3,690.6L846.0,689.8L846.7,689.1L847.3,688.3L848.0,687.6L848.7,686.8L849.3,686.1L850.0,685.4L850.7,684.6L851.3,683.9L852.0,683.1L852.7,682.4L853.3,681.6L854.0,680.9L854.7,680.1L855.3,679.4L856.0,678.6L856.6,677.9L857.3,677.1L858.0,676.4L858.6,675.6L859.3,674.9L860.0,674.1L860.6,673.4L861.3,672.6L862.0,671.9L862.6,671.1L863.3,670.4L864.0,669.6L864.6,668.9L865.3,668.2L866.0,667.4L866.6,666.7L867.3,665.9L868.0,665.2L868.6,664.4L869.3,663.7L870.0,662.9L870.6,662.2L871.3,661.4L872.0,660.7L872.6,659.9L873.3,659.2L874.0,658.4L874.6,657.7L875.3,656.9L876.0,656.2L876.6,655.4L877.3,654.7L878.0,653.9L878.6,653.2L879.3,652.4L880.0,651.7L880.6,651.0L881.3,650.2L882.0,649.5L882.6,648.7L883.3,648.0L884.0,647.2L884.6,646.5L885.3,645.7L886.0,645.0L886.6,644.2L887.3,643.5L888.0,642.7L888.6,642.0L889.3,641.2L890.0,640.5L890.6,639.7L891.3,639.0L892.0,638.2L892.6,637.5L893.3,636.7L894.0,636.0L894.6,635.2L895.3,634.5L896.0,633.8L896.6,633.0L897.3,632.3L898.0,631.5L898.6,630.8L899.3,630.0L900.0,629.3L900.6,628.5L901.3,627.8L902.0,627.0L902.6,626.3L903.3,625.5L904.0,624.8L904.6,624.0L905.3,623.3L906.0,622.5L906.6,621.8L907.3,621.0L908.0,620.3L908.6,619.5L909.3,618.8L910.0,618.0L910.6,617.3L911.3,616.5L912.0,615.8L912.6,615.1L913.3,614.3L914.0,613.6L914.6,612.8L915.3,612.1L916.0,611.3L916.6,610.6L917.3,609.8L918.0,609.1L918.6,608.3L919.3,607.6L920.0,606.8L920.6,606.1L921.3,605.3L922.0,604.6L922.6,603.8L923.3,603.1L924.0,602.3L924.6,601.6L925.3,600.8L926.0,600.1L926.6,599.3L927.3,598.6L928.0,597.9L928.6,597.1L929.3,596.4L930.0,595.6L930.6,594.9L931.3,594.1L932.0,593.4L932.6,592.6L933.3,591.9L934.0,591.1L934.6,590.4L935.3,589.6L936.0,588.9L936.6,588.1L937.3,587.4L938.0,586.6L938.6,585.9L939.3,585.1L940.0,584.4L940.6,583.6L941.3,582.9L942.0,582.1L942.6,581.4L943.3,580.7L944.0,579.9L944.6,579.2L945.3,578.4L946.0,577.7L946.6,576.9L947.3,576.2L948.0,575.4L948.6,574.7L949.3,573.9L950.0,573.2L950.6,572.4L951.3,571.7L952.0,570.9L952.6,570.2L953.3,569.4L954.0,568.7L954.6,567.9L955.3,567.2L956.0,566.4L956.6,565.7L957.3,564.9L958.0,564.2L958.6,563.4L959.3,562.7L960.0,562.0L960.6,561.2" fill="none" stroke="#dc9a00" stroke-width="8.4" stroke-linecap="round" stroke-linejoin="round" stroke-dasharray="0.3 24.6" stroke-dashoffset="-11"/>
</g>
<rect x="554.80" y="598.10" width="445.30" height="2.80" fill="#000"/>
<rect x="554.80" y="1002.35" width="445.30" height="2.70" fill="#000"/>
<rect x="554.80" y="598.10" width="2.40" height="406.95" fill="#000"/>
<rect x="997.60" y="598.10" width="2.50" height="406.95" fill="#000"/>
<rect x="556.00" y="800.40" width="5.50" height="2.40" fill="#000"/>
<rect x="556.00" y="901.45" width="3.30" height="2.40" fill="#000"/>
<rect x="556.00" y="699.35" width="3.30" height="2.40" fill="#000"/>
<rect x="731.60" y="998.70" width="2.40" height="5.00" fill="#000"/>
<rect x="953.80" y="1001.00" width="2.40" height="2.70" fill="#000"/>
<text x="552.50" y="1018.00" font-size="47.9" text-anchor="end" letter-spacing="0.4">2.0</text>
<text x="552.50" y="815.90" font-size="47.9" text-anchor="end" letter-spacing="0.4">2.5</text>
<text x="552.50" y="613.80" font-size="47.9" text-anchor="end" letter-spacing="0.4">3.0</text>
<text x="734.00" y="1046.00" font-size="47.9" text-anchor="middle" letter-spacing="-0.25">0.00010</text>
<text x="954.10" y="1046.00" font-size="47.9" text-anchor="middle" letter-spacing="-0.25">0.00013</text>
</svg>
</body></html>
